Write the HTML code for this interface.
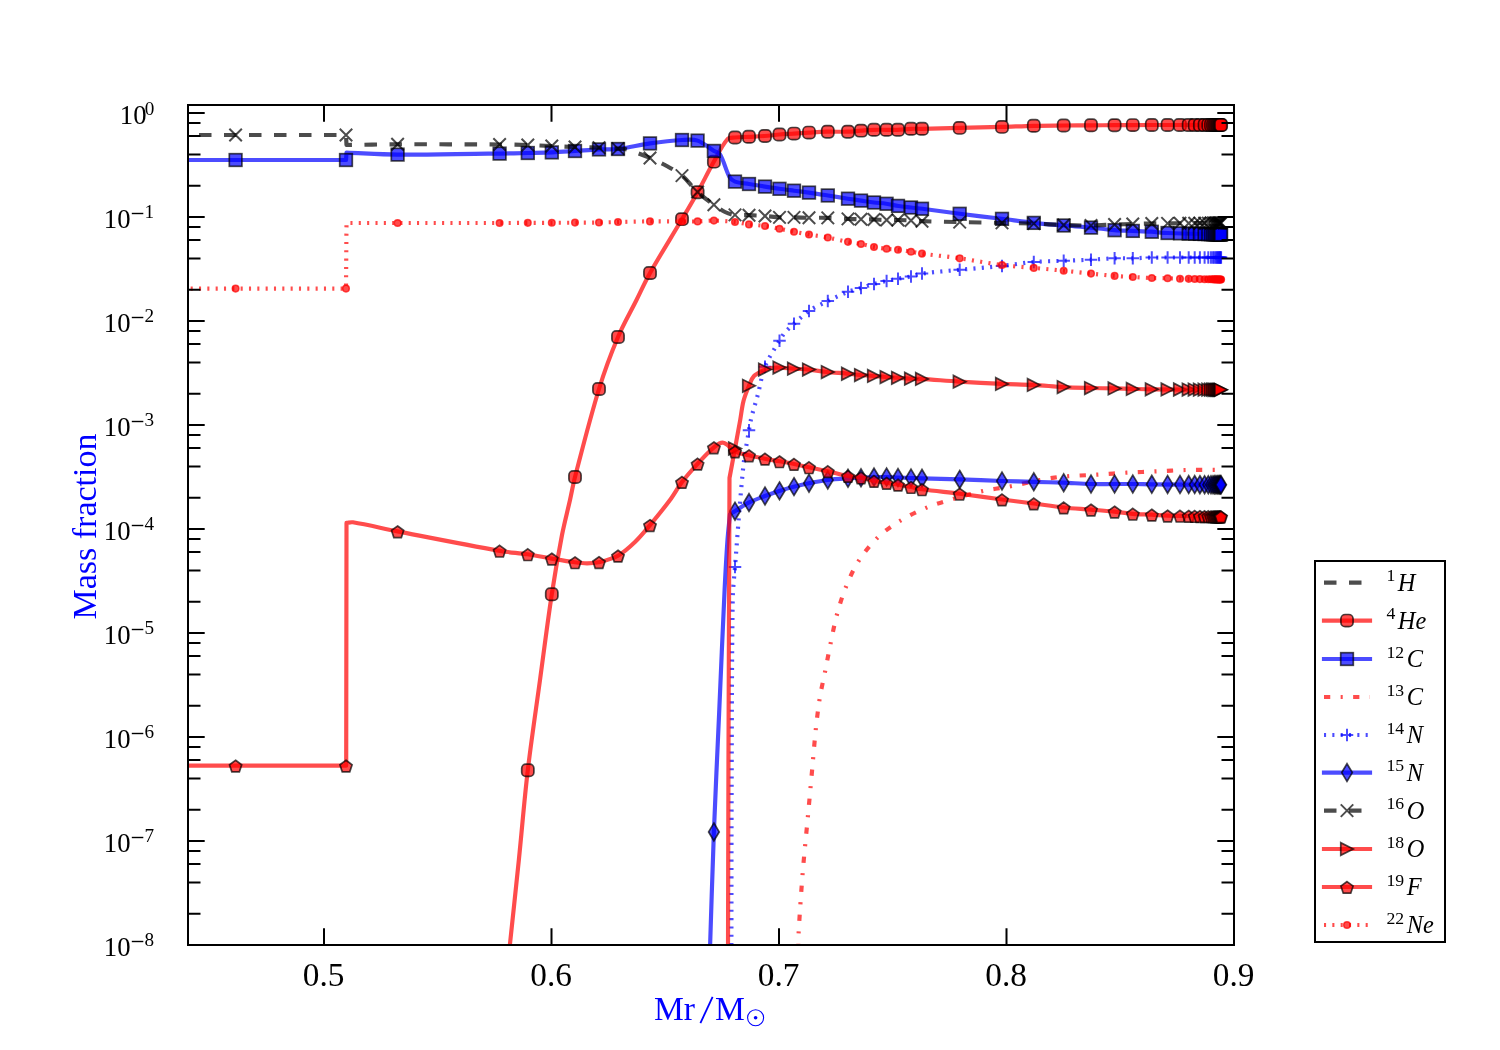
<!DOCTYPE html><html><head><meta charset="utf-8"><style>html,body{margin:0;padding:0;background:#fff;width:1500px;height:1050px;overflow:hidden}svg{display:block;will-change:transform}text{font-family:"Liberation Serif",serif}</style></head><body>
<svg width="1500" height="1050" viewBox="0 0 1500 1050">
<rect width="1500" height="1050" fill="#fff"/>
<defs><clipPath id="ax"><rect x="188" y="105" width="1046" height="840"/></clipPath></defs>
<g clip-path="url(#ax)">
<path d="M508.80,955.00C512.13,923.49 515.66,891.02 518.90,859.50C521.90,830.30 524.27,800.15 527.70,771.00C531.24,740.90 535.91,710.03 540.00,680.00C543.83,651.91 547.45,622.93 551.70,594.90C554.71,575.07 558.20,554.69 562.00,535.00C564.24,523.37 567.41,511.56 570.00,500.00C571.70,492.42 573.04,484.52 575.00,477.00C582.61,447.88 590.16,417.77 599.00,389.00C604.36,371.54 610.91,353.84 618.00,337.00C623.30,324.42 630.40,312.21 636.50,300.00C640.80,291.39 644.78,282.29 649.50,273.90C659.64,255.87 671.00,237.82 681.50,220.00C686.84,210.93 692.39,201.61 697.50,192.40C702.96,182.56 707.98,172.10 713.50,162.30C717.91,154.47 721.73,145.80 727.60,139.00C729.21,137.14 732.45,137.76 734.90,137.50C739.40,137.03 744.08,137.03 748.60,136.80C753.81,136.53 759.19,136.39 764.40,136.00C769.39,135.63 774.51,134.91 779.50,134.50C784.21,134.12 789.08,133.90 793.80,133.60C798.82,133.28 803.98,132.89 809.00,132.60C814.94,132.26 821.05,131.84 827.00,131.70C833.83,131.54 840.87,131.90 847.70,131.70C851.93,131.57 856.27,131.01 860.50,130.70C864.89,130.38 869.40,129.95 873.80,129.80C877.89,129.66 882.11,129.80 886.20,129.80C889.96,129.80 893.84,129.95 897.60,129.80C902.03,129.62 906.57,128.98 911.00,128.80C914.63,128.65 918.37,128.87 922.00,128.80C934.38,128.57 947.12,128.20 959.50,127.90C973.33,127.57 987.57,127.29 1001.40,126.90C1012.09,126.60 1023.10,126.04 1033.80,125.80C1043.67,125.58 1053.83,125.59 1063.70,125.50C1072.71,125.42 1081.99,125.35 1091.00,125.30C1098.79,125.25 1106.81,125.24 1114.60,125.20C1126.88,125.14 1139.52,125.02 1151.80,125.00C1174.80,124.96 1198.50,125.00 1221.50,125.00" fill="none" stroke="#ff0000" stroke-opacity="0.7" stroke-width="4.17" stroke-linecap="square" stroke-linejoin="round"/>
<rect x="521.70" y="764.16" width="12.2" height="12.2" rx="4.2" fill="#ff0000" fill-opacity="0.7" stroke="#000" stroke-opacity="0.7" stroke-width="1.7"/>
<rect x="545.70" y="588.22" width="12.2" height="12.2" rx="4.2" fill="#ff0000" fill-opacity="0.7" stroke="#000" stroke-opacity="0.7" stroke-width="1.7"/>
<rect x="568.90" y="470.90" width="12.2" height="12.2" rx="4.2" fill="#ff0000" fill-opacity="0.7" stroke="#000" stroke-opacity="0.7" stroke-width="1.7"/>
<rect x="592.90" y="382.90" width="12.2" height="12.2" rx="4.2" fill="#ff0000" fill-opacity="0.7" stroke="#000" stroke-opacity="0.7" stroke-width="1.7"/>
<rect x="611.90" y="330.90" width="12.2" height="12.2" rx="4.2" fill="#ff0000" fill-opacity="0.7" stroke="#000" stroke-opacity="0.7" stroke-width="1.7"/>
<rect x="643.90" y="266.96" width="12.2" height="12.2" rx="4.2" fill="#ff0000" fill-opacity="0.7" stroke="#000" stroke-opacity="0.7" stroke-width="1.7"/>
<rect x="675.90" y="213.04" width="12.2" height="12.2" rx="4.2" fill="#ff0000" fill-opacity="0.7" stroke="#000" stroke-opacity="0.7" stroke-width="1.7"/>
<rect x="691.50" y="186.11" width="12.2" height="12.2" rx="4.2" fill="#ff0000" fill-opacity="0.7" stroke="#000" stroke-opacity="0.7" stroke-width="1.7"/>
<rect x="707.80" y="155.54" width="12.2" height="12.2" rx="4.2" fill="#ff0000" fill-opacity="0.7" stroke="#000" stroke-opacity="0.7" stroke-width="1.7"/>
<rect x="728.90" y="131.39" width="12.2" height="12.2" rx="4.2" fill="#ff0000" fill-opacity="0.7" stroke="#000" stroke-opacity="0.7" stroke-width="1.7"/>
<rect x="742.90" y="130.68" width="12.2" height="12.2" rx="4.2" fill="#ff0000" fill-opacity="0.7" stroke="#000" stroke-opacity="0.7" stroke-width="1.7"/>
<rect x="758.90" y="129.84" width="12.2" height="12.2" rx="4.2" fill="#ff0000" fill-opacity="0.7" stroke="#000" stroke-opacity="0.7" stroke-width="1.7"/>
<rect x="773.40" y="128.40" width="12.2" height="12.2" rx="4.2" fill="#ff0000" fill-opacity="0.7" stroke="#000" stroke-opacity="0.7" stroke-width="1.7"/>
<rect x="787.90" y="127.49" width="12.2" height="12.2" rx="4.2" fill="#ff0000" fill-opacity="0.7" stroke="#000" stroke-opacity="0.7" stroke-width="1.7"/>
<rect x="802.90" y="126.50" width="12.2" height="12.2" rx="4.2" fill="#ff0000" fill-opacity="0.7" stroke="#000" stroke-opacity="0.7" stroke-width="1.7"/>
<rect x="821.70" y="125.60" width="12.2" height="12.2" rx="4.2" fill="#ff0000" fill-opacity="0.7" stroke="#000" stroke-opacity="0.7" stroke-width="1.7"/>
<rect x="841.90" y="125.58" width="12.2" height="12.2" rx="4.2" fill="#ff0000" fill-opacity="0.7" stroke="#000" stroke-opacity="0.7" stroke-width="1.7"/>
<rect x="854.90" y="124.57" width="12.2" height="12.2" rx="4.2" fill="#ff0000" fill-opacity="0.7" stroke="#000" stroke-opacity="0.7" stroke-width="1.7"/>
<rect x="867.90" y="123.70" width="12.2" height="12.2" rx="4.2" fill="#ff0000" fill-opacity="0.7" stroke="#000" stroke-opacity="0.7" stroke-width="1.7"/>
<rect x="880.50" y="123.70" width="12.2" height="12.2" rx="4.2" fill="#ff0000" fill-opacity="0.7" stroke="#000" stroke-opacity="0.7" stroke-width="1.7"/>
<rect x="891.90" y="123.67" width="12.2" height="12.2" rx="4.2" fill="#ff0000" fill-opacity="0.7" stroke="#000" stroke-opacity="0.7" stroke-width="1.7"/>
<rect x="904.90" y="122.70" width="12.2" height="12.2" rx="4.2" fill="#ff0000" fill-opacity="0.7" stroke="#000" stroke-opacity="0.7" stroke-width="1.7"/>
<rect x="915.90" y="122.70" width="12.2" height="12.2" rx="4.2" fill="#ff0000" fill-opacity="0.7" stroke="#000" stroke-opacity="0.7" stroke-width="1.7"/>
<rect x="953.60" y="121.80" width="12.2" height="12.2" rx="4.2" fill="#ff0000" fill-opacity="0.7" stroke="#000" stroke-opacity="0.7" stroke-width="1.7"/>
<rect x="995.90" y="120.78" width="12.2" height="12.2" rx="4.2" fill="#ff0000" fill-opacity="0.7" stroke="#000" stroke-opacity="0.7" stroke-width="1.7"/>
<rect x="1027.70" y="119.70" width="12.2" height="12.2" rx="4.2" fill="#ff0000" fill-opacity="0.7" stroke="#000" stroke-opacity="0.7" stroke-width="1.7"/>
<rect x="1057.60" y="119.40" width="12.2" height="12.2" rx="4.2" fill="#ff0000" fill-opacity="0.7" stroke="#000" stroke-opacity="0.7" stroke-width="1.7"/>
<rect x="1084.90" y="119.20" width="12.2" height="12.2" rx="4.2" fill="#ff0000" fill-opacity="0.7" stroke="#000" stroke-opacity="0.7" stroke-width="1.7"/>
<rect x="1108.50" y="119.10" width="12.2" height="12.2" rx="4.2" fill="#ff0000" fill-opacity="0.7" stroke="#000" stroke-opacity="0.7" stroke-width="1.7"/>
<rect x="1126.70" y="119.00" width="12.2" height="12.2" rx="4.2" fill="#ff0000" fill-opacity="0.7" stroke="#000" stroke-opacity="0.7" stroke-width="1.7"/>
<rect x="1145.70" y="118.90" width="12.2" height="12.2" rx="4.2" fill="#ff0000" fill-opacity="0.7" stroke="#000" stroke-opacity="0.7" stroke-width="1.7"/>
<rect x="1161.50" y="118.90" width="12.2" height="12.2" rx="4.2" fill="#ff0000" fill-opacity="0.7" stroke="#000" stroke-opacity="0.7" stroke-width="1.7"/>
<rect x="1173.90" y="118.90" width="12.2" height="12.2" rx="4.2" fill="#ff0000" fill-opacity="0.7" stroke="#000" stroke-opacity="0.7" stroke-width="1.7"/>
<rect x="1182.60" y="118.90" width="12.2" height="12.2" rx="4.2" fill="#ff0000" fill-opacity="0.7" stroke="#000" stroke-opacity="0.7" stroke-width="1.7"/>
<rect x="1188.60" y="118.90" width="12.2" height="12.2" rx="4.2" fill="#ff0000" fill-opacity="0.7" stroke="#000" stroke-opacity="0.7" stroke-width="1.7"/>
<rect x="1193.80" y="118.90" width="12.2" height="12.2" rx="4.2" fill="#ff0000" fill-opacity="0.7" stroke="#000" stroke-opacity="0.7" stroke-width="1.7"/>
<rect x="1198.50" y="118.90" width="12.2" height="12.2" rx="4.2" fill="#ff0000" fill-opacity="0.7" stroke="#000" stroke-opacity="0.7" stroke-width="1.7"/>
<rect x="1202.20" y="118.90" width="12.2" height="12.2" rx="4.2" fill="#ff0000" fill-opacity="0.7" stroke="#000" stroke-opacity="0.7" stroke-width="1.7"/>
<rect x="1204.90" y="118.90" width="12.2" height="12.2" rx="4.2" fill="#ff0000" fill-opacity="0.7" stroke="#000" stroke-opacity="0.7" stroke-width="1.7"/>
<rect x="1206.90" y="118.90" width="12.2" height="12.2" rx="4.2" fill="#ff0000" fill-opacity="0.7" stroke="#000" stroke-opacity="0.7" stroke-width="1.7"/>
<rect x="1208.40" y="118.90" width="12.2" height="12.2" rx="4.2" fill="#ff0000" fill-opacity="0.7" stroke="#000" stroke-opacity="0.7" stroke-width="1.7"/>
<rect x="1209.70" y="118.90" width="12.2" height="12.2" rx="4.2" fill="#ff0000" fill-opacity="0.7" stroke="#000" stroke-opacity="0.7" stroke-width="1.7"/>
<rect x="1210.90" y="118.90" width="12.2" height="12.2" rx="4.2" fill="#ff0000" fill-opacity="0.7" stroke="#000" stroke-opacity="0.7" stroke-width="1.7"/>
<rect x="1211.90" y="118.90" width="12.2" height="12.2" rx="4.2" fill="#ff0000" fill-opacity="0.7" stroke="#000" stroke-opacity="0.7" stroke-width="1.7"/>
<rect x="1212.90" y="118.90" width="12.2" height="12.2" rx="4.2" fill="#ff0000" fill-opacity="0.7" stroke="#000" stroke-opacity="0.7" stroke-width="1.7"/>
<rect x="1213.70" y="118.90" width="12.2" height="12.2" rx="4.2" fill="#ff0000" fill-opacity="0.7" stroke="#000" stroke-opacity="0.7" stroke-width="1.7"/>
<rect x="1214.40" y="118.90" width="12.2" height="12.2" rx="4.2" fill="#ff0000" fill-opacity="0.7" stroke="#000" stroke-opacity="0.7" stroke-width="1.7"/>
<rect x="1215.00" y="118.90" width="12.2" height="12.2" rx="4.2" fill="#ff0000" fill-opacity="0.7" stroke="#000" stroke-opacity="0.7" stroke-width="1.7"/>
<path d="M174.00,160.00L346.00,160.00L346.50,152.60C363.36,153.26 380.72,154.48 397.60,154.60C427.43,154.81 458.17,153.89 488.00,153.60C491.83,153.56 495.77,153.66 499.60,153.60C508.97,153.46 518.63,153.21 528.00,153.00C535.92,152.82 544.08,152.74 552.00,152.40C559.60,152.08 567.41,151.48 575.00,151.00C582.92,150.49 591.07,149.77 599.00,149.40C605.26,149.11 611.77,149.73 618.00,149.00C628.65,147.75 639.38,144.89 650.00,143.40C660.52,141.92 671.40,140.62 682.00,140.00C687.14,139.70 692.73,138.93 697.60,140.60C703.66,142.68 708.53,147.66 714.00,151.00C715.93,152.18 718.84,152.36 720.00,154.30C724.16,161.28 725.59,169.88 729.50,177.00C730.64,179.07 732.77,180.80 735.00,181.60C739.41,183.18 744.38,183.23 749.00,184.00C754.28,184.88 759.72,185.77 765.00,186.60C769.78,187.35 774.71,188.12 779.50,188.80C784.28,189.48 789.21,190.08 794.00,190.70C798.95,191.34 804.06,191.90 809.00,192.60C815.28,193.49 821.73,194.52 828.00,195.50C834.60,196.53 841.39,197.68 848.00,198.70C852.28,199.36 856.71,199.97 861.00,200.60C865.29,201.23 869.70,201.97 874.00,202.50C878.02,202.99 882.19,203.13 886.20,203.70C890.32,204.29 894.49,205.37 898.60,206.00C902.67,206.62 906.91,207.02 911.00,207.50C914.76,207.94 918.64,208.32 922.40,208.80C934.75,210.39 947.45,212.24 959.80,213.80C973.58,215.54 987.81,217.11 1001.60,218.80C1012.26,220.11 1023.22,221.75 1033.90,222.90C1043.78,223.96 1054.00,224.68 1063.90,225.50C1072.84,226.24 1082.07,226.77 1091.00,227.60C1098.77,228.32 1106.72,229.59 1114.50,230.20C1120.56,230.68 1126.83,230.65 1132.90,230.90C1138.94,231.15 1145.17,231.33 1151.20,231.70C1156.62,232.03 1162.18,232.78 1167.60,233.00C1185.38,233.71 1203.71,234.00 1221.50,234.50" fill="none" stroke="#0000ff" stroke-opacity="0.7" stroke-width="4.17" stroke-linecap="square" stroke-linejoin="round"/>
<rect x="229.30" y="153.70" width="12.6" height="12.6" fill="#0000ff" fill-opacity="0.7" stroke="#000" stroke-opacity="0.7" stroke-width="1.7"/>
<rect x="339.70" y="153.70" width="12.6" height="12.6" fill="#0000ff" fill-opacity="0.7" stroke="#000" stroke-opacity="0.7" stroke-width="1.7"/>
<rect x="391.30" y="148.30" width="12.6" height="12.6" fill="#0000ff" fill-opacity="0.7" stroke="#000" stroke-opacity="0.7" stroke-width="1.7"/>
<rect x="493.30" y="147.30" width="12.6" height="12.6" fill="#0000ff" fill-opacity="0.7" stroke="#000" stroke-opacity="0.7" stroke-width="1.7"/>
<rect x="521.50" y="146.70" width="12.6" height="12.6" fill="#0000ff" fill-opacity="0.7" stroke="#000" stroke-opacity="0.7" stroke-width="1.7"/>
<rect x="545.50" y="146.10" width="12.6" height="12.6" fill="#0000ff" fill-opacity="0.7" stroke="#000" stroke-opacity="0.7" stroke-width="1.7"/>
<rect x="568.70" y="144.70" width="12.6" height="12.6" fill="#0000ff" fill-opacity="0.7" stroke="#000" stroke-opacity="0.7" stroke-width="1.7"/>
<rect x="592.70" y="143.10" width="12.6" height="12.6" fill="#0000ff" fill-opacity="0.7" stroke="#000" stroke-opacity="0.7" stroke-width="1.7"/>
<rect x="611.70" y="142.70" width="12.6" height="12.6" fill="#0000ff" fill-opacity="0.7" stroke="#000" stroke-opacity="0.7" stroke-width="1.7"/>
<rect x="643.70" y="137.10" width="12.6" height="12.6" fill="#0000ff" fill-opacity="0.7" stroke="#000" stroke-opacity="0.7" stroke-width="1.7"/>
<rect x="675.70" y="133.70" width="12.6" height="12.6" fill="#0000ff" fill-opacity="0.7" stroke="#000" stroke-opacity="0.7" stroke-width="1.7"/>
<rect x="691.30" y="134.30" width="12.6" height="12.6" fill="#0000ff" fill-opacity="0.7" stroke="#000" stroke-opacity="0.7" stroke-width="1.7"/>
<rect x="707.60" y="144.64" width="12.6" height="12.6" fill="#0000ff" fill-opacity="0.7" stroke="#000" stroke-opacity="0.7" stroke-width="1.7"/>
<rect x="728.70" y="175.30" width="12.6" height="12.6" fill="#0000ff" fill-opacity="0.7" stroke="#000" stroke-opacity="0.7" stroke-width="1.7"/>
<rect x="742.70" y="177.70" width="12.6" height="12.6" fill="#0000ff" fill-opacity="0.7" stroke="#000" stroke-opacity="0.7" stroke-width="1.7"/>
<rect x="758.70" y="180.30" width="12.6" height="12.6" fill="#0000ff" fill-opacity="0.7" stroke="#000" stroke-opacity="0.7" stroke-width="1.7"/>
<rect x="773.20" y="182.50" width="12.6" height="12.6" fill="#0000ff" fill-opacity="0.7" stroke="#000" stroke-opacity="0.7" stroke-width="1.7"/>
<rect x="787.70" y="184.40" width="12.6" height="12.6" fill="#0000ff" fill-opacity="0.7" stroke="#000" stroke-opacity="0.7" stroke-width="1.7"/>
<rect x="802.70" y="186.30" width="12.6" height="12.6" fill="#0000ff" fill-opacity="0.7" stroke="#000" stroke-opacity="0.7" stroke-width="1.7"/>
<rect x="821.50" y="189.17" width="12.6" height="12.6" fill="#0000ff" fill-opacity="0.7" stroke="#000" stroke-opacity="0.7" stroke-width="1.7"/>
<rect x="841.70" y="192.40" width="12.6" height="12.6" fill="#0000ff" fill-opacity="0.7" stroke="#000" stroke-opacity="0.7" stroke-width="1.7"/>
<rect x="854.70" y="194.30" width="12.6" height="12.6" fill="#0000ff" fill-opacity="0.7" stroke="#000" stroke-opacity="0.7" stroke-width="1.7"/>
<rect x="867.70" y="196.20" width="12.6" height="12.6" fill="#0000ff" fill-opacity="0.7" stroke="#000" stroke-opacity="0.7" stroke-width="1.7"/>
<rect x="880.30" y="197.47" width="12.6" height="12.6" fill="#0000ff" fill-opacity="0.7" stroke="#000" stroke-opacity="0.7" stroke-width="1.7"/>
<rect x="891.70" y="199.59" width="12.6" height="12.6" fill="#0000ff" fill-opacity="0.7" stroke="#000" stroke-opacity="0.7" stroke-width="1.7"/>
<rect x="904.70" y="201.20" width="12.6" height="12.6" fill="#0000ff" fill-opacity="0.7" stroke="#000" stroke-opacity="0.7" stroke-width="1.7"/>
<rect x="915.70" y="202.45" width="12.6" height="12.6" fill="#0000ff" fill-opacity="0.7" stroke="#000" stroke-opacity="0.7" stroke-width="1.7"/>
<rect x="953.40" y="207.49" width="12.6" height="12.6" fill="#0000ff" fill-opacity="0.7" stroke="#000" stroke-opacity="0.7" stroke-width="1.7"/>
<rect x="995.70" y="212.55" width="12.6" height="12.6" fill="#0000ff" fill-opacity="0.7" stroke="#000" stroke-opacity="0.7" stroke-width="1.7"/>
<rect x="1027.50" y="216.59" width="12.6" height="12.6" fill="#0000ff" fill-opacity="0.7" stroke="#000" stroke-opacity="0.7" stroke-width="1.7"/>
<rect x="1057.40" y="219.18" width="12.6" height="12.6" fill="#0000ff" fill-opacity="0.7" stroke="#000" stroke-opacity="0.7" stroke-width="1.7"/>
<rect x="1084.70" y="221.30" width="12.6" height="12.6" fill="#0000ff" fill-opacity="0.7" stroke="#000" stroke-opacity="0.7" stroke-width="1.7"/>
<rect x="1108.30" y="223.90" width="12.6" height="12.6" fill="#0000ff" fill-opacity="0.7" stroke="#000" stroke-opacity="0.7" stroke-width="1.7"/>
<rect x="1126.50" y="224.60" width="12.6" height="12.6" fill="#0000ff" fill-opacity="0.7" stroke="#000" stroke-opacity="0.7" stroke-width="1.7"/>
<rect x="1145.50" y="225.45" width="12.6" height="12.6" fill="#0000ff" fill-opacity="0.7" stroke="#000" stroke-opacity="0.7" stroke-width="1.7"/>
<rect x="1161.30" y="226.70" width="12.6" height="12.6" fill="#0000ff" fill-opacity="0.7" stroke="#000" stroke-opacity="0.7" stroke-width="1.7"/>
<rect x="1173.70" y="227.05" width="12.6" height="12.6" fill="#0000ff" fill-opacity="0.7" stroke="#000" stroke-opacity="0.7" stroke-width="1.7"/>
<rect x="1182.40" y="227.29" width="12.6" height="12.6" fill="#0000ff" fill-opacity="0.7" stroke="#000" stroke-opacity="0.7" stroke-width="1.7"/>
<rect x="1188.40" y="227.45" width="12.6" height="12.6" fill="#0000ff" fill-opacity="0.7" stroke="#000" stroke-opacity="0.7" stroke-width="1.7"/>
<rect x="1193.60" y="227.60" width="12.6" height="12.6" fill="#0000ff" fill-opacity="0.7" stroke="#000" stroke-opacity="0.7" stroke-width="1.7"/>
<rect x="1198.30" y="227.73" width="12.6" height="12.6" fill="#0000ff" fill-opacity="0.7" stroke="#000" stroke-opacity="0.7" stroke-width="1.7"/>
<rect x="1202.00" y="227.83" width="12.6" height="12.6" fill="#0000ff" fill-opacity="0.7" stroke="#000" stroke-opacity="0.7" stroke-width="1.7"/>
<rect x="1204.70" y="227.91" width="12.6" height="12.6" fill="#0000ff" fill-opacity="0.7" stroke="#000" stroke-opacity="0.7" stroke-width="1.7"/>
<rect x="1206.70" y="227.96" width="12.6" height="12.6" fill="#0000ff" fill-opacity="0.7" stroke="#000" stroke-opacity="0.7" stroke-width="1.7"/>
<rect x="1208.20" y="228.01" width="12.6" height="12.6" fill="#0000ff" fill-opacity="0.7" stroke="#000" stroke-opacity="0.7" stroke-width="1.7"/>
<rect x="1209.50" y="228.04" width="12.6" height="12.6" fill="#0000ff" fill-opacity="0.7" stroke="#000" stroke-opacity="0.7" stroke-width="1.7"/>
<rect x="1210.70" y="228.07" width="12.6" height="12.6" fill="#0000ff" fill-opacity="0.7" stroke="#000" stroke-opacity="0.7" stroke-width="1.7"/>
<rect x="1211.70" y="228.10" width="12.6" height="12.6" fill="#0000ff" fill-opacity="0.7" stroke="#000" stroke-opacity="0.7" stroke-width="1.7"/>
<rect x="1212.70" y="228.13" width="12.6" height="12.6" fill="#0000ff" fill-opacity="0.7" stroke="#000" stroke-opacity="0.7" stroke-width="1.7"/>
<rect x="1213.50" y="228.15" width="12.6" height="12.6" fill="#0000ff" fill-opacity="0.7" stroke="#000" stroke-opacity="0.7" stroke-width="1.7"/>
<rect x="1214.20" y="228.17" width="12.6" height="12.6" fill="#0000ff" fill-opacity="0.7" stroke="#000" stroke-opacity="0.7" stroke-width="1.7"/>
<rect x="1214.80" y="228.19" width="12.6" height="12.6" fill="#0000ff" fill-opacity="0.7" stroke="#000" stroke-opacity="0.7" stroke-width="1.7"/>
<path d="M798.20,950.00C798.37,943.83 798.34,937.46 798.70,931.30C799.83,911.95 801.15,892.02 802.70,872.70C804.22,853.74 806.26,834.24 808.00,815.30C809.33,800.78 810.68,785.82 812.00,771.30C813.32,756.78 814.45,741.80 816.00,727.30C817.09,717.17 818.35,706.75 820.00,696.70C821.49,687.66 823.71,678.48 825.50,669.50C827.31,660.40 829.00,650.98 830.90,641.90C832.86,632.54 834.64,622.82 837.20,613.60C839.83,604.12 842.86,594.40 846.60,585.30C850.14,576.70 854.11,567.88 859.20,560.10C864.57,551.88 870.98,543.87 878.10,537.10C884.91,530.63 893.06,525.17 901.10,520.30C909.36,515.30 918.35,510.91 927.30,507.30C936.39,503.63 946.20,501.06 955.60,498.30C964.55,495.68 973.79,493.00 982.90,491.00C991.10,489.20 999.75,488.35 1008.00,486.80C1023.31,483.93 1038.86,479.68 1054.30,477.60C1069.12,475.61 1084.58,475.51 1099.50,474.50C1108.48,473.89 1117.72,473.20 1126.70,472.70C1136.86,472.14 1147.34,471.76 1157.50,471.30C1167.04,470.87 1176.86,470.22 1186.40,470.00C1197.98,469.73 1209.92,469.87 1221.50,469.80" fill="none" stroke="#ff0000" stroke-opacity="0.7" stroke-width="4.17" stroke-linecap="butt" stroke-linejoin="round" stroke-dasharray="6.25,10.4,2.08,10.4"/>
<path d="M731.40,945.00C731.47,897.15 731.42,847.85 731.60,800.00C731.85,734.00 731.74,665.99 732.70,600.00C732.86,589.08 734.13,577.88 735.00,567.00C737.63,533.89 739.95,499.74 743.30,466.70C744.47,455.11 746.81,443.30 748.70,431.80C749.45,427.23 750.19,422.50 751.30,418.00C753.26,410.02 755.90,401.95 758.00,394.00C760.32,385.22 761.54,375.82 764.70,367.30C767.29,360.30 771.66,353.82 775.30,347.30C776.68,344.84 778.37,342.47 779.90,340.10C781.48,337.65 782.80,334.90 784.70,332.70C787.48,329.49 790.84,326.64 794.00,323.80C798.83,319.47 803.52,314.62 808.90,311.00C814.78,307.05 821.54,304.12 827.90,301.00C834.41,297.81 841.16,294.57 847.90,291.90C852.10,290.24 856.68,289.22 861.00,287.90C865.29,286.58 869.67,285.08 874.00,283.90C878.19,282.76 882.56,281.82 886.80,280.90C890.48,280.10 894.30,279.39 898.00,278.70C902.28,277.90 906.74,277.31 911.00,276.40C914.66,275.62 918.29,274.11 922.00,273.60C934.32,271.92 947.12,270.99 959.50,269.80C973.32,268.48 987.59,267.45 1001.40,266.00C1012.11,264.88 1023.06,262.90 1033.80,262.00C1043.64,261.18 1053.83,261.20 1063.70,260.80C1072.71,260.44 1081.99,260.14 1091.00,259.70C1098.79,259.32 1106.80,258.56 1114.60,258.30C1120.60,258.10 1126.80,258.41 1132.80,258.30C1139.07,258.18 1145.53,257.66 1151.80,257.60C1174.80,257.39 1198.50,257.53 1221.50,257.50" fill="none" stroke="#0000ff" stroke-opacity="0.7" stroke-width="4.17" stroke-linecap="butt" stroke-linejoin="round" stroke-dasharray="2.08,6.25"/>
<path d="M728.75,567.00L741.25,567.00M735.00,560.75L735.00,573.25" stroke="#0000ff" stroke-opacity="0.7" stroke-width="2" fill="none"/>
<path d="M742.75,430.21L755.25,430.21M749.00,423.96L749.00,436.46" stroke="#0000ff" stroke-opacity="0.7" stroke-width="2" fill="none"/>
<path d="M758.75,366.73L771.25,366.73M765.00,360.48L765.00,372.98" stroke="#0000ff" stroke-opacity="0.7" stroke-width="2" fill="none"/>
<path d="M773.25,340.73L785.75,340.73M779.50,334.48L779.50,346.98" stroke="#0000ff" stroke-opacity="0.7" stroke-width="2" fill="none"/>
<path d="M787.75,323.80L800.25,323.80M794.00,317.55L794.00,330.05" stroke="#0000ff" stroke-opacity="0.7" stroke-width="2" fill="none"/>
<path d="M802.75,310.95L815.25,310.95M809.00,304.70L809.00,317.20" stroke="#0000ff" stroke-opacity="0.7" stroke-width="2" fill="none"/>
<path d="M821.55,301.05L834.05,301.05M827.80,294.80L827.80,307.30" stroke="#0000ff" stroke-opacity="0.7" stroke-width="2" fill="none"/>
<path d="M841.75,291.87L854.25,291.87M848.00,285.62L848.00,298.12" stroke="#0000ff" stroke-opacity="0.7" stroke-width="2" fill="none"/>
<path d="M854.75,287.90L867.25,287.90M861.00,281.65L861.00,294.15" stroke="#0000ff" stroke-opacity="0.7" stroke-width="2" fill="none"/>
<path d="M867.75,283.90L880.25,283.90M874.00,277.65L874.00,290.15" stroke="#0000ff" stroke-opacity="0.7" stroke-width="2" fill="none"/>
<path d="M880.35,280.95L892.85,280.95M886.60,274.70L886.60,287.20" stroke="#0000ff" stroke-opacity="0.7" stroke-width="2" fill="none"/>
<path d="M891.75,278.70L904.25,278.70M898.00,272.45L898.00,284.95" stroke="#0000ff" stroke-opacity="0.7" stroke-width="2" fill="none"/>
<path d="M904.75,276.40L917.25,276.40M911.00,270.15L911.00,282.65" stroke="#0000ff" stroke-opacity="0.7" stroke-width="2" fill="none"/>
<path d="M915.75,273.60L928.25,273.60M922.00,267.35L922.00,279.85" stroke="#0000ff" stroke-opacity="0.7" stroke-width="2" fill="none"/>
<path d="M953.45,269.78L965.95,269.78M959.70,263.53L959.70,276.03" stroke="#0000ff" stroke-opacity="0.7" stroke-width="2" fill="none"/>
<path d="M995.75,265.93L1008.25,265.93M1002.00,259.68L1002.00,272.18" stroke="#0000ff" stroke-opacity="0.7" stroke-width="2" fill="none"/>
<path d="M1027.55,262.00L1040.05,262.00M1033.80,255.75L1033.80,268.25" stroke="#0000ff" stroke-opacity="0.7" stroke-width="2" fill="none"/>
<path d="M1057.45,260.80L1069.95,260.80M1063.70,254.55L1063.70,267.05" stroke="#0000ff" stroke-opacity="0.7" stroke-width="2" fill="none"/>
<path d="M1084.75,259.70L1097.25,259.70M1091.00,253.45L1091.00,265.95" stroke="#0000ff" stroke-opacity="0.7" stroke-width="2" fill="none"/>
<path d="M1108.35,258.30L1120.85,258.30M1114.60,252.05L1114.60,264.55" stroke="#0000ff" stroke-opacity="0.7" stroke-width="2" fill="none"/>
<path d="M1126.55,258.30L1139.05,258.30M1132.80,252.05L1132.80,264.55" stroke="#0000ff" stroke-opacity="0.7" stroke-width="2" fill="none"/>
<path d="M1145.55,257.60L1158.05,257.60M1151.80,251.35L1151.80,263.85" stroke="#0000ff" stroke-opacity="0.7" stroke-width="2" fill="none"/>
<path d="M1161.35,257.58L1173.85,257.58M1167.60,251.33L1167.60,263.83" stroke="#0000ff" stroke-opacity="0.7" stroke-width="2" fill="none"/>
<path d="M1173.75,257.56L1186.25,257.56M1180.00,251.31L1180.00,263.81" stroke="#0000ff" stroke-opacity="0.7" stroke-width="2" fill="none"/>
<path d="M1182.45,257.55L1194.95,257.55M1188.70,251.30L1188.70,263.80" stroke="#0000ff" stroke-opacity="0.7" stroke-width="2" fill="none"/>
<path d="M1188.45,257.54L1200.95,257.54M1194.70,251.29L1194.70,263.79" stroke="#0000ff" stroke-opacity="0.7" stroke-width="2" fill="none"/>
<path d="M1193.65,257.53L1206.15,257.53M1199.90,251.28L1199.90,263.78" stroke="#0000ff" stroke-opacity="0.7" stroke-width="2" fill="none"/>
<path d="M1198.35,257.52L1210.85,257.52M1204.60,251.27L1204.60,263.77" stroke="#0000ff" stroke-opacity="0.7" stroke-width="2" fill="none"/>
<path d="M1202.05,257.52L1214.55,257.52M1208.30,251.27L1208.30,263.77" stroke="#0000ff" stroke-opacity="0.7" stroke-width="2" fill="none"/>
<path d="M1204.75,257.52L1217.25,257.52M1211.00,251.27L1211.00,263.77" stroke="#0000ff" stroke-opacity="0.7" stroke-width="2" fill="none"/>
<path d="M1206.75,257.51L1219.25,257.51M1213.00,251.26L1213.00,263.76" stroke="#0000ff" stroke-opacity="0.7" stroke-width="2" fill="none"/>
<path d="M1208.25,257.51L1220.75,257.51M1214.50,251.26L1214.50,263.76" stroke="#0000ff" stroke-opacity="0.7" stroke-width="2" fill="none"/>
<path d="M1209.55,257.51L1222.05,257.51M1215.80,251.26L1215.80,263.76" stroke="#0000ff" stroke-opacity="0.7" stroke-width="2" fill="none"/>
<path d="M1210.75,257.51L1223.25,257.51M1217.00,251.26L1217.00,263.76" stroke="#0000ff" stroke-opacity="0.7" stroke-width="2" fill="none"/>
<path d="M1211.75,257.51L1224.25,257.51M1218.00,251.26L1218.00,263.76" stroke="#0000ff" stroke-opacity="0.7" stroke-width="2" fill="none"/>
<path d="M1212.75,257.50L1225.25,257.50M1219.00,251.25L1219.00,263.75" stroke="#0000ff" stroke-opacity="0.7" stroke-width="2" fill="none"/>
<path d="M1213.55,257.50L1226.05,257.50M1219.80,251.25L1219.80,263.75" stroke="#0000ff" stroke-opacity="0.7" stroke-width="2" fill="none"/>
<path d="M1214.25,257.50L1226.75,257.50M1220.50,251.25L1220.50,263.75" stroke="#0000ff" stroke-opacity="0.7" stroke-width="2" fill="none"/>
<path d="M1214.85,257.50L1227.35,257.50M1221.10,251.25L1221.10,263.75" stroke="#0000ff" stroke-opacity="0.7" stroke-width="2" fill="none"/>
<path d="M709.80,955.00C711.15,914.38 712.33,872.52 713.90,831.90C715.40,792.98 717.38,752.91 719.10,714.00C720.91,673.08 722.62,630.91 724.60,590.00C725.40,573.49 726.33,556.49 727.50,540.00C728.11,531.40 729.17,522.58 730.00,514.00C731.75,513.01 733.58,512.04 735.30,511.00C739.75,508.31 744.06,505.04 748.70,502.70C753.89,500.08 759.57,498.08 765.00,496.00C769.90,494.12 775.01,492.32 780.00,490.70C784.48,489.25 789.14,487.88 793.70,486.70C798.61,485.43 803.72,484.29 808.70,483.30C814.81,482.08 821.12,480.79 827.30,480.00C834.00,479.14 840.96,478.74 847.70,478.30C852.08,478.01 856.61,478.00 861.00,477.80C865.29,477.60 869.71,477.23 874.00,477.10C878.16,476.97 882.44,476.93 886.60,477.00C890.37,477.06 894.24,477.35 898.00,477.50C902.29,477.68 906.71,477.86 911.00,478.00C914.63,478.12 918.37,478.20 922.00,478.30C934.44,478.66 947.26,478.98 959.70,479.40C973.66,479.87 988.04,480.55 1002.00,481.00C1012.39,481.34 1023.11,481.51 1033.50,481.80C1043.33,482.07 1053.47,482.32 1063.30,482.70C1072.28,483.05 1081.52,483.77 1090.50,484.00C1098.38,484.20 1106.51,484.00 1114.40,484.00C1120.44,484.00 1126.66,483.95 1132.70,484.00C1138.97,484.05 1145.43,484.24 1151.70,484.30C1174.73,484.51 1198.47,484.63 1221.50,484.80" fill="none" stroke="#0000ff" stroke-opacity="0.7" stroke-width="4.17" stroke-linecap="square" stroke-linejoin="round"/>
<path d="M713.90,823.06L719.20,831.90L713.90,840.74L708.60,831.90Z" fill="#0000ff" fill-opacity="0.7" stroke="#000" stroke-opacity="0.7" stroke-width="1.7"/>
<path d="M735.00,502.33L740.30,511.17L735.00,520.01L729.70,511.17Z" fill="#0000ff" fill-opacity="0.7" stroke="#000" stroke-opacity="0.7" stroke-width="1.7"/>
<path d="M749.00,493.74L754.30,502.58L749.00,511.42L743.70,502.58Z" fill="#0000ff" fill-opacity="0.7" stroke="#000" stroke-opacity="0.7" stroke-width="1.7"/>
<path d="M765.00,487.16L770.30,496.00L765.00,504.84L759.70,496.00Z" fill="#0000ff" fill-opacity="0.7" stroke="#000" stroke-opacity="0.7" stroke-width="1.7"/>
<path d="M779.50,482.04L784.80,490.88L779.50,499.72L774.20,490.88Z" fill="#0000ff" fill-opacity="0.7" stroke="#000" stroke-opacity="0.7" stroke-width="1.7"/>
<path d="M794.00,477.79L799.30,486.63L794.00,495.47L788.70,486.63Z" fill="#0000ff" fill-opacity="0.7" stroke="#000" stroke-opacity="0.7" stroke-width="1.7"/>
<path d="M809.00,474.41L814.30,483.25L809.00,492.09L803.70,483.25Z" fill="#0000ff" fill-opacity="0.7" stroke="#000" stroke-opacity="0.7" stroke-width="1.7"/>
<path d="M827.80,471.12L833.10,479.96L827.80,488.80L822.50,479.96Z" fill="#0000ff" fill-opacity="0.7" stroke="#000" stroke-opacity="0.7" stroke-width="1.7"/>
<path d="M848.00,469.45L853.30,478.29L848.00,487.13L842.70,478.29Z" fill="#0000ff" fill-opacity="0.7" stroke="#000" stroke-opacity="0.7" stroke-width="1.7"/>
<path d="M861.00,468.96L866.30,477.80L861.00,486.64L855.70,477.80Z" fill="#0000ff" fill-opacity="0.7" stroke="#000" stroke-opacity="0.7" stroke-width="1.7"/>
<path d="M874.00,468.26L879.30,477.10L874.00,485.94L868.70,477.10Z" fill="#0000ff" fill-opacity="0.7" stroke="#000" stroke-opacity="0.7" stroke-width="1.7"/>
<path d="M886.60,468.16L891.90,477.00L886.60,485.84L881.30,477.00Z" fill="#0000ff" fill-opacity="0.7" stroke="#000" stroke-opacity="0.7" stroke-width="1.7"/>
<path d="M898.00,468.66L903.30,477.50L898.00,486.34L892.70,477.50Z" fill="#0000ff" fill-opacity="0.7" stroke="#000" stroke-opacity="0.7" stroke-width="1.7"/>
<path d="M911.00,469.16L916.30,478.00L911.00,486.84L905.70,478.00Z" fill="#0000ff" fill-opacity="0.7" stroke="#000" stroke-opacity="0.7" stroke-width="1.7"/>
<path d="M922.00,469.46L927.30,478.30L922.00,487.14L916.70,478.30Z" fill="#0000ff" fill-opacity="0.7" stroke="#000" stroke-opacity="0.7" stroke-width="1.7"/>
<path d="M959.70,470.56L965.00,479.40L959.70,488.24L954.40,479.40Z" fill="#0000ff" fill-opacity="0.7" stroke="#000" stroke-opacity="0.7" stroke-width="1.7"/>
<path d="M1002.00,472.16L1007.30,481.00L1002.00,489.84L996.70,481.00Z" fill="#0000ff" fill-opacity="0.7" stroke="#000" stroke-opacity="0.7" stroke-width="1.7"/>
<path d="M1033.80,472.97L1039.10,481.81L1033.80,490.65L1028.50,481.81Z" fill="#0000ff" fill-opacity="0.7" stroke="#000" stroke-opacity="0.7" stroke-width="1.7"/>
<path d="M1063.70,473.88L1069.00,482.72L1063.70,491.56L1058.40,482.72Z" fill="#0000ff" fill-opacity="0.7" stroke="#000" stroke-opacity="0.7" stroke-width="1.7"/>
<path d="M1091.00,475.16L1096.30,484.00L1091.00,492.84L1085.70,484.00Z" fill="#0000ff" fill-opacity="0.7" stroke="#000" stroke-opacity="0.7" stroke-width="1.7"/>
<path d="M1114.60,475.16L1119.90,484.00L1114.60,492.84L1109.30,484.00Z" fill="#0000ff" fill-opacity="0.7" stroke="#000" stroke-opacity="0.7" stroke-width="1.7"/>
<path d="M1132.80,475.16L1138.10,484.00L1132.80,492.84L1127.50,484.00Z" fill="#0000ff" fill-opacity="0.7" stroke="#000" stroke-opacity="0.7" stroke-width="1.7"/>
<path d="M1151.80,475.46L1157.10,484.30L1151.80,493.14L1146.50,484.30Z" fill="#0000ff" fill-opacity="0.7" stroke="#000" stroke-opacity="0.7" stroke-width="1.7"/>
<path d="M1167.60,475.57L1172.90,484.41L1167.60,493.25L1162.30,484.41Z" fill="#0000ff" fill-opacity="0.7" stroke="#000" stroke-opacity="0.7" stroke-width="1.7"/>
<path d="M1180.00,475.66L1185.30,484.50L1180.00,493.34L1174.70,484.50Z" fill="#0000ff" fill-opacity="0.7" stroke="#000" stroke-opacity="0.7" stroke-width="1.7"/>
<path d="M1188.70,475.73L1194.00,484.57L1188.70,493.41L1183.40,484.57Z" fill="#0000ff" fill-opacity="0.7" stroke="#000" stroke-opacity="0.7" stroke-width="1.7"/>
<path d="M1194.70,475.77L1200.00,484.61L1194.70,493.45L1189.40,484.61Z" fill="#0000ff" fill-opacity="0.7" stroke="#000" stroke-opacity="0.7" stroke-width="1.7"/>
<path d="M1199.90,475.81L1205.20,484.65L1199.90,493.49L1194.60,484.65Z" fill="#0000ff" fill-opacity="0.7" stroke="#000" stroke-opacity="0.7" stroke-width="1.7"/>
<path d="M1204.60,475.84L1209.90,484.68L1204.60,493.52L1199.30,484.68Z" fill="#0000ff" fill-opacity="0.7" stroke="#000" stroke-opacity="0.7" stroke-width="1.7"/>
<path d="M1208.30,475.87L1213.60,484.71L1208.30,493.55L1203.00,484.71Z" fill="#0000ff" fill-opacity="0.7" stroke="#000" stroke-opacity="0.7" stroke-width="1.7"/>
<path d="M1211.00,475.88L1216.30,484.72L1211.00,493.56L1205.70,484.72Z" fill="#0000ff" fill-opacity="0.7" stroke="#000" stroke-opacity="0.7" stroke-width="1.7"/>
<path d="M1213.00,475.90L1218.30,484.74L1213.00,493.58L1207.70,484.74Z" fill="#0000ff" fill-opacity="0.7" stroke="#000" stroke-opacity="0.7" stroke-width="1.7"/>
<path d="M1214.50,475.91L1219.80,484.75L1214.50,493.59L1209.20,484.75Z" fill="#0000ff" fill-opacity="0.7" stroke="#000" stroke-opacity="0.7" stroke-width="1.7"/>
<path d="M1215.80,475.92L1221.10,484.76L1215.80,493.60L1210.50,484.76Z" fill="#0000ff" fill-opacity="0.7" stroke="#000" stroke-opacity="0.7" stroke-width="1.7"/>
<path d="M1217.00,475.93L1222.30,484.77L1217.00,493.61L1211.70,484.77Z" fill="#0000ff" fill-opacity="0.7" stroke="#000" stroke-opacity="0.7" stroke-width="1.7"/>
<path d="M1218.00,475.93L1223.30,484.77L1218.00,493.61L1212.70,484.77Z" fill="#0000ff" fill-opacity="0.7" stroke="#000" stroke-opacity="0.7" stroke-width="1.7"/>
<path d="M1219.00,475.94L1224.30,484.78L1219.00,493.62L1213.70,484.78Z" fill="#0000ff" fill-opacity="0.7" stroke="#000" stroke-opacity="0.7" stroke-width="1.7"/>
<path d="M1219.80,475.95L1225.10,484.79L1219.80,493.63L1214.50,484.79Z" fill="#0000ff" fill-opacity="0.7" stroke="#000" stroke-opacity="0.7" stroke-width="1.7"/>
<path d="M1220.50,475.95L1225.80,484.79L1220.50,493.63L1215.20,484.79Z" fill="#0000ff" fill-opacity="0.7" stroke="#000" stroke-opacity="0.7" stroke-width="1.7"/>
<path d="M1221.10,475.96L1226.40,484.80L1221.10,493.64L1215.80,484.80Z" fill="#0000ff" fill-opacity="0.7" stroke="#000" stroke-opacity="0.7" stroke-width="1.7"/>
<path d="M174.00,135.00L346.00,135.00L346.50,145.00C363.36,144.77 380.74,144.36 397.60,144.30C431.06,144.19 465.54,144.32 499.00,144.50C508.24,144.55 517.76,144.73 527.00,145.00C534.92,145.23 543.08,145.66 551.00,146.00C558.59,146.32 566.41,146.74 574.00,147.00C581.92,147.27 590.08,147.31 598.00,147.60C604.60,147.84 611.40,148.26 618.00,148.60C620.31,148.72 622.75,148.45 625.00,149.00C630.07,150.24 635.08,152.25 640.00,154.00C643.17,155.13 646.42,156.35 649.50,157.70C654.68,159.98 660.05,162.27 665.00,165.00C670.79,168.19 676.91,171.38 682.00,175.60C687.73,180.36 692.01,186.97 697.50,192.00C702.56,196.64 708.35,200.76 713.90,204.80C717.43,207.37 721.09,210.06 725.00,212.00C727.88,213.43 731.11,214.48 734.30,214.90C739.11,215.54 744.15,215.03 749.00,215.20C754.28,215.39 759.73,215.62 765.00,216.00C769.79,216.35 774.70,217.17 779.50,217.40C784.28,217.63 789.22,217.34 794.00,217.40C798.95,217.47 804.05,217.74 809.00,217.80C814.94,217.87 821.06,217.63 827.00,217.80C833.94,218.00 841.07,218.59 848.00,218.90C852.29,219.09 856.71,219.20 861.00,219.30C865.29,219.40 869.71,219.38 874.00,219.50C877.96,219.61 882.04,219.92 886.00,220.00C889.96,220.08 894.04,219.92 898.00,220.00C902.29,220.09 906.71,220.29 911.00,220.50C914.63,220.68 918.36,221.08 922.00,221.20C934.47,221.61 947.33,221.83 959.80,222.10C973.59,222.39 987.81,222.62 1001.60,222.90C1012.26,223.12 1023.24,223.24 1033.90,223.60C1043.81,223.93 1053.99,224.67 1063.90,225.00C1072.84,225.30 1082.06,225.59 1091.00,225.50C1098.76,225.42 1106.74,224.78 1114.50,224.50C1120.57,224.28 1126.83,224.17 1132.90,224.00C1138.94,223.84 1145.16,223.57 1151.20,223.50C1174.40,223.24 1198.30,223.16 1221.50,223.00" fill="none" stroke="#000000" stroke-opacity="0.7" stroke-width="4.17" stroke-linecap="butt" stroke-linejoin="round" stroke-dasharray="12.5,12.5"/>
<path d="M229.35,128.75L241.85,141.25M229.35,141.25L241.85,128.75" stroke="#000" stroke-opacity="0.7" stroke-width="2" fill="none"/>
<path d="M339.75,128.75L352.25,141.25M339.75,141.25L352.25,128.75" stroke="#000" stroke-opacity="0.7" stroke-width="2" fill="none"/>
<path d="M391.35,138.05L403.85,150.55M391.35,150.55L403.85,138.05" stroke="#000" stroke-opacity="0.7" stroke-width="2" fill="none"/>
<path d="M493.35,138.26L505.85,150.76M493.35,150.76L505.85,138.26" stroke="#000" stroke-opacity="0.7" stroke-width="2" fill="none"/>
<path d="M521.55,138.78L534.05,151.28M521.55,151.28L534.05,138.78" stroke="#000" stroke-opacity="0.7" stroke-width="2" fill="none"/>
<path d="M545.55,139.78L558.05,152.28M545.55,152.28L558.05,139.78" stroke="#000" stroke-opacity="0.7" stroke-width="2" fill="none"/>
<path d="M568.75,140.78L581.25,153.28M568.75,153.28L581.25,140.78" stroke="#000" stroke-opacity="0.7" stroke-width="2" fill="none"/>
<path d="M592.75,141.40L605.25,153.90M592.75,153.90L605.25,141.40" stroke="#000" stroke-opacity="0.7" stroke-width="2" fill="none"/>
<path d="M611.75,142.35L624.25,154.85M611.75,154.85L624.25,142.35" stroke="#000" stroke-opacity="0.7" stroke-width="2" fill="none"/>
<path d="M643.75,151.69L656.25,164.19M643.75,164.19L656.25,151.69" stroke="#000" stroke-opacity="0.7" stroke-width="2" fill="none"/>
<path d="M675.75,169.35L688.25,181.85M675.75,181.85L688.25,169.35" stroke="#000" stroke-opacity="0.7" stroke-width="2" fill="none"/>
<path d="M691.35,185.83L703.85,198.33M691.35,198.33L703.85,185.83" stroke="#000" stroke-opacity="0.7" stroke-width="2" fill="none"/>
<path d="M707.65,198.55L720.15,211.05M707.65,211.05L720.15,198.55" stroke="#000" stroke-opacity="0.7" stroke-width="2" fill="none"/>
<path d="M728.75,208.66L741.25,221.16M728.75,221.16L741.25,208.66" stroke="#000" stroke-opacity="0.7" stroke-width="2" fill="none"/>
<path d="M742.75,208.95L755.25,221.45M742.75,221.45L755.25,208.95" stroke="#000" stroke-opacity="0.7" stroke-width="2" fill="none"/>
<path d="M758.75,209.75L771.25,222.25M758.75,222.25L771.25,209.75" stroke="#000" stroke-opacity="0.7" stroke-width="2" fill="none"/>
<path d="M773.25,211.15L785.75,223.65M773.25,223.65L785.75,211.15" stroke="#000" stroke-opacity="0.7" stroke-width="2" fill="none"/>
<path d="M787.75,211.15L800.25,223.65M787.75,223.65L800.25,211.15" stroke="#000" stroke-opacity="0.7" stroke-width="2" fill="none"/>
<path d="M802.75,211.55L815.25,224.05M802.75,224.05L815.25,211.55" stroke="#000" stroke-opacity="0.7" stroke-width="2" fill="none"/>
<path d="M821.55,211.59L834.05,224.09M821.55,224.09L834.05,211.59" stroke="#000" stroke-opacity="0.7" stroke-width="2" fill="none"/>
<path d="M841.75,212.65L854.25,225.15M841.75,225.15L854.25,212.65" stroke="#000" stroke-opacity="0.7" stroke-width="2" fill="none"/>
<path d="M854.75,213.05L867.25,225.55M854.75,225.55L867.25,213.05" stroke="#000" stroke-opacity="0.7" stroke-width="2" fill="none"/>
<path d="M867.75,213.25L880.25,225.75M867.75,225.75L880.25,213.25" stroke="#000" stroke-opacity="0.7" stroke-width="2" fill="none"/>
<path d="M880.35,213.75L892.85,226.25M880.35,226.25L892.85,213.75" stroke="#000" stroke-opacity="0.7" stroke-width="2" fill="none"/>
<path d="M891.75,213.75L904.25,226.25M891.75,226.25L904.25,213.75" stroke="#000" stroke-opacity="0.7" stroke-width="2" fill="none"/>
<path d="M904.75,214.25L917.25,226.75M904.75,226.75L917.25,214.25" stroke="#000" stroke-opacity="0.7" stroke-width="2" fill="none"/>
<path d="M915.75,214.95L928.25,227.45M915.75,227.45L928.25,214.95" stroke="#000" stroke-opacity="0.7" stroke-width="2" fill="none"/>
<path d="M953.45,215.85L965.95,228.35M953.45,228.35L965.95,215.85" stroke="#000" stroke-opacity="0.7" stroke-width="2" fill="none"/>
<path d="M995.75,216.66L1008.25,229.16M995.75,229.16L1008.25,216.66" stroke="#000" stroke-opacity="0.7" stroke-width="2" fill="none"/>
<path d="M1027.55,217.35L1040.05,229.85M1027.55,229.85L1040.05,217.35" stroke="#000" stroke-opacity="0.7" stroke-width="2" fill="none"/>
<path d="M1057.45,218.74L1069.95,231.24M1057.45,231.24L1069.95,218.74" stroke="#000" stroke-opacity="0.7" stroke-width="2" fill="none"/>
<path d="M1084.75,219.25L1097.25,231.75M1084.75,231.75L1097.25,219.25" stroke="#000" stroke-opacity="0.7" stroke-width="2" fill="none"/>
<path d="M1108.35,218.25L1120.85,230.75M1108.35,230.75L1120.85,218.25" stroke="#000" stroke-opacity="0.7" stroke-width="2" fill="none"/>
<path d="M1126.55,217.75L1139.05,230.25M1126.55,230.25L1139.05,217.75" stroke="#000" stroke-opacity="0.7" stroke-width="2" fill="none"/>
<path d="M1145.55,217.25L1158.05,229.75M1145.55,229.75L1158.05,217.25" stroke="#000" stroke-opacity="0.7" stroke-width="2" fill="none"/>
<path d="M1161.35,217.13L1173.85,229.63M1161.35,229.63L1173.85,217.13" stroke="#000" stroke-opacity="0.7" stroke-width="2" fill="none"/>
<path d="M1173.75,217.05L1186.25,229.55M1173.75,229.55L1186.25,217.05" stroke="#000" stroke-opacity="0.7" stroke-width="2" fill="none"/>
<path d="M1182.45,216.98L1194.95,229.48M1182.45,229.48L1194.95,216.98" stroke="#000" stroke-opacity="0.7" stroke-width="2" fill="none"/>
<path d="M1188.45,216.94L1200.95,229.44M1188.45,229.44L1200.95,216.94" stroke="#000" stroke-opacity="0.7" stroke-width="2" fill="none"/>
<path d="M1193.65,216.90L1206.15,229.40M1193.65,229.40L1206.15,216.90" stroke="#000" stroke-opacity="0.7" stroke-width="2" fill="none"/>
<path d="M1198.35,216.87L1210.85,229.37M1198.35,229.37L1210.85,216.87" stroke="#000" stroke-opacity="0.7" stroke-width="2" fill="none"/>
<path d="M1202.05,216.84L1214.55,229.34M1202.05,229.34L1214.55,216.84" stroke="#000" stroke-opacity="0.7" stroke-width="2" fill="none"/>
<path d="M1204.75,216.82L1217.25,229.32M1204.75,229.32L1217.25,216.82" stroke="#000" stroke-opacity="0.7" stroke-width="2" fill="none"/>
<path d="M1206.75,216.81L1219.25,229.31M1206.75,229.31L1219.25,216.81" stroke="#000" stroke-opacity="0.7" stroke-width="2" fill="none"/>
<path d="M1208.25,216.80L1220.75,229.30M1208.25,229.30L1220.75,216.80" stroke="#000" stroke-opacity="0.7" stroke-width="2" fill="none"/>
<path d="M1209.55,216.79L1222.05,229.29M1209.55,229.29L1222.05,216.79" stroke="#000" stroke-opacity="0.7" stroke-width="2" fill="none"/>
<path d="M1210.75,216.78L1223.25,229.28M1210.75,229.28L1223.25,216.78" stroke="#000" stroke-opacity="0.7" stroke-width="2" fill="none"/>
<path d="M1211.75,216.77L1224.25,229.27M1211.75,229.27L1224.25,216.77" stroke="#000" stroke-opacity="0.7" stroke-width="2" fill="none"/>
<path d="M1212.75,216.77L1225.25,229.27M1212.75,229.27L1225.25,216.77" stroke="#000" stroke-opacity="0.7" stroke-width="2" fill="none"/>
<path d="M1213.55,216.76L1226.05,229.26M1213.55,229.26L1226.05,216.76" stroke="#000" stroke-opacity="0.7" stroke-width="2" fill="none"/>
<path d="M1214.25,216.76L1226.75,229.26M1214.25,229.26L1226.75,216.76" stroke="#000" stroke-opacity="0.7" stroke-width="2" fill="none"/>
<path d="M1214.85,216.75L1227.35,229.25M1214.85,229.25L1227.35,216.75" stroke="#000" stroke-opacity="0.7" stroke-width="2" fill="none"/>
<path d="M728.00,950.00C728.16,884.00 728.29,816.00 728.50,750.00C728.79,660.24 729.17,567.76 729.50,478.00C731.32,468.26 733.20,458.24 735.00,448.50C736.73,439.10 738.52,429.41 740.20,420.00C741.32,413.74 741.92,407.17 743.50,401.00C744.80,395.90 746.86,390.85 748.90,386.00C750.33,382.58 751.40,378.64 754.00,376.00C756.94,373.00 761.24,371.48 765.00,369.60C766.55,368.83 768.28,368.24 770.00,368.00C773.14,367.57 776.43,367.51 779.60,367.60C784.23,367.74 788.98,368.39 793.60,368.70C798.68,369.05 803.93,369.10 809.00,369.60C814.96,370.19 821.04,371.37 827.00,372.00C833.45,372.69 840.14,373.01 846.60,373.60C851.03,374.00 855.57,374.61 860.00,375.00C864.28,375.37 868.71,375.56 873.00,375.90C877.10,376.22 881.30,376.69 885.40,377.00C889.22,377.29 893.17,377.44 897.00,377.70C901.09,377.97 905.30,378.40 909.40,378.60C913.22,378.79 917.18,378.67 921.00,378.90C933.55,379.66 946.45,380.83 959.00,381.60C973.18,382.48 987.80,383.27 1002.00,383.90C1012.39,384.36 1023.11,384.36 1033.50,384.90C1043.35,385.41 1053.45,386.56 1063.30,387.10C1072.27,387.59 1081.52,387.77 1090.50,388.00C1098.39,388.20 1106.51,388.23 1114.40,388.40C1120.44,388.53 1126.66,388.75 1132.70,388.90C1138.97,389.05 1145.43,389.24 1151.70,389.30C1174.73,389.53 1198.47,389.63 1221.50,389.80" fill="none" stroke="#ff0000" stroke-opacity="0.7" stroke-width="4.17" stroke-linecap="square" stroke-linejoin="round"/>
<path d="M741.25,448.50L728.75,442.25L728.75,454.75Z" fill="#ff0000" fill-opacity="0.7" stroke="#000" stroke-opacity="0.7" stroke-width="1.7"/>
<path d="M755.25,385.80L742.75,379.55L742.75,392.05Z" fill="#ff0000" fill-opacity="0.7" stroke="#000" stroke-opacity="0.7" stroke-width="1.7"/>
<path d="M771.25,369.60L758.75,363.35L758.75,375.85Z" fill="#ff0000" fill-opacity="0.7" stroke="#000" stroke-opacity="0.7" stroke-width="1.7"/>
<path d="M785.75,367.60L773.25,361.35L773.25,373.85Z" fill="#ff0000" fill-opacity="0.7" stroke="#000" stroke-opacity="0.7" stroke-width="1.7"/>
<path d="M800.25,368.72L787.75,362.47L787.75,374.97Z" fill="#ff0000" fill-opacity="0.7" stroke="#000" stroke-opacity="0.7" stroke-width="1.7"/>
<path d="M815.25,369.60L802.75,363.35L802.75,375.85Z" fill="#ff0000" fill-opacity="0.7" stroke="#000" stroke-opacity="0.7" stroke-width="1.7"/>
<path d="M834.05,372.07L821.55,365.82L821.55,378.32Z" fill="#ff0000" fill-opacity="0.7" stroke="#000" stroke-opacity="0.7" stroke-width="1.7"/>
<path d="M854.25,373.75L841.75,367.50L841.75,380.00Z" fill="#ff0000" fill-opacity="0.7" stroke="#000" stroke-opacity="0.7" stroke-width="1.7"/>
<path d="M867.25,375.07L854.75,368.82L854.75,381.32Z" fill="#ff0000" fill-opacity="0.7" stroke="#000" stroke-opacity="0.7" stroke-width="1.7"/>
<path d="M880.25,375.99L867.75,369.74L867.75,382.24Z" fill="#ff0000" fill-opacity="0.7" stroke="#000" stroke-opacity="0.7" stroke-width="1.7"/>
<path d="M892.85,377.07L880.35,370.82L880.35,383.32Z" fill="#ff0000" fill-opacity="0.7" stroke="#000" stroke-opacity="0.7" stroke-width="1.7"/>
<path d="M904.25,377.77L891.75,371.52L891.75,384.02Z" fill="#ff0000" fill-opacity="0.7" stroke="#000" stroke-opacity="0.7" stroke-width="1.7"/>
<path d="M917.25,378.64L904.75,372.39L904.75,384.89Z" fill="#ff0000" fill-opacity="0.7" stroke="#000" stroke-opacity="0.7" stroke-width="1.7"/>
<path d="M928.25,378.97L915.75,372.72L915.75,385.22Z" fill="#ff0000" fill-opacity="0.7" stroke="#000" stroke-opacity="0.7" stroke-width="1.7"/>
<path d="M965.95,381.64L953.45,375.39L953.45,387.89Z" fill="#ff0000" fill-opacity="0.7" stroke="#000" stroke-opacity="0.7" stroke-width="1.7"/>
<path d="M1008.25,383.90L995.75,377.65L995.75,390.15Z" fill="#ff0000" fill-opacity="0.7" stroke="#000" stroke-opacity="0.7" stroke-width="1.7"/>
<path d="M1040.05,384.92L1027.55,378.67L1027.55,391.17Z" fill="#ff0000" fill-opacity="0.7" stroke="#000" stroke-opacity="0.7" stroke-width="1.7"/>
<path d="M1069.95,387.11L1057.45,380.86L1057.45,393.36Z" fill="#ff0000" fill-opacity="0.7" stroke="#000" stroke-opacity="0.7" stroke-width="1.7"/>
<path d="M1097.25,388.01L1084.75,381.76L1084.75,394.26Z" fill="#ff0000" fill-opacity="0.7" stroke="#000" stroke-opacity="0.7" stroke-width="1.7"/>
<path d="M1120.85,388.41L1108.35,382.16L1108.35,394.66Z" fill="#ff0000" fill-opacity="0.7" stroke="#000" stroke-opacity="0.7" stroke-width="1.7"/>
<path d="M1139.05,388.90L1126.55,382.65L1126.55,395.15Z" fill="#ff0000" fill-opacity="0.7" stroke="#000" stroke-opacity="0.7" stroke-width="1.7"/>
<path d="M1158.05,389.30L1145.55,383.05L1145.55,395.55Z" fill="#ff0000" fill-opacity="0.7" stroke="#000" stroke-opacity="0.7" stroke-width="1.7"/>
<path d="M1173.85,389.41L1161.35,383.16L1161.35,395.66Z" fill="#ff0000" fill-opacity="0.7" stroke="#000" stroke-opacity="0.7" stroke-width="1.7"/>
<path d="M1186.25,389.50L1173.75,383.25L1173.75,395.75Z" fill="#ff0000" fill-opacity="0.7" stroke="#000" stroke-opacity="0.7" stroke-width="1.7"/>
<path d="M1194.95,389.57L1182.45,383.32L1182.45,395.82Z" fill="#ff0000" fill-opacity="0.7" stroke="#000" stroke-opacity="0.7" stroke-width="1.7"/>
<path d="M1200.95,389.61L1188.45,383.36L1188.45,395.86Z" fill="#ff0000" fill-opacity="0.7" stroke="#000" stroke-opacity="0.7" stroke-width="1.7"/>
<path d="M1206.15,389.65L1193.65,383.40L1193.65,395.90Z" fill="#ff0000" fill-opacity="0.7" stroke="#000" stroke-opacity="0.7" stroke-width="1.7"/>
<path d="M1210.85,389.68L1198.35,383.43L1198.35,395.93Z" fill="#ff0000" fill-opacity="0.7" stroke="#000" stroke-opacity="0.7" stroke-width="1.7"/>
<path d="M1214.55,389.71L1202.05,383.46L1202.05,395.96Z" fill="#ff0000" fill-opacity="0.7" stroke="#000" stroke-opacity="0.7" stroke-width="1.7"/>
<path d="M1217.25,389.72L1204.75,383.47L1204.75,395.97Z" fill="#ff0000" fill-opacity="0.7" stroke="#000" stroke-opacity="0.7" stroke-width="1.7"/>
<path d="M1219.25,389.74L1206.75,383.49L1206.75,395.99Z" fill="#ff0000" fill-opacity="0.7" stroke="#000" stroke-opacity="0.7" stroke-width="1.7"/>
<path d="M1220.75,389.75L1208.25,383.50L1208.25,396.00Z" fill="#ff0000" fill-opacity="0.7" stroke="#000" stroke-opacity="0.7" stroke-width="1.7"/>
<path d="M1222.05,389.76L1209.55,383.51L1209.55,396.01Z" fill="#ff0000" fill-opacity="0.7" stroke="#000" stroke-opacity="0.7" stroke-width="1.7"/>
<path d="M1223.25,389.77L1210.75,383.52L1210.75,396.02Z" fill="#ff0000" fill-opacity="0.7" stroke="#000" stroke-opacity="0.7" stroke-width="1.7"/>
<path d="M1224.25,389.77L1211.75,383.52L1211.75,396.02Z" fill="#ff0000" fill-opacity="0.7" stroke="#000" stroke-opacity="0.7" stroke-width="1.7"/>
<path d="M1225.25,389.78L1212.75,383.53L1212.75,396.03Z" fill="#ff0000" fill-opacity="0.7" stroke="#000" stroke-opacity="0.7" stroke-width="1.7"/>
<path d="M1226.05,389.79L1213.55,383.54L1213.55,396.04Z" fill="#ff0000" fill-opacity="0.7" stroke="#000" stroke-opacity="0.7" stroke-width="1.7"/>
<path d="M1226.75,389.79L1214.25,383.54L1214.25,396.04Z" fill="#ff0000" fill-opacity="0.7" stroke="#000" stroke-opacity="0.7" stroke-width="1.7"/>
<path d="M1227.35,389.80L1214.85,383.55L1214.85,396.05Z" fill="#ff0000" fill-opacity="0.7" stroke="#000" stroke-opacity="0.7" stroke-width="1.7"/>
<path d="M174.00,765.70L346.20,765.70L346.50,522.90C348.61,522.70 350.81,521.95 352.90,522.30C367.78,524.77 382.89,528.52 397.70,531.40C431.44,537.96 466.15,544.94 500.00,550.90C509.07,552.50 518.59,552.94 527.70,554.30C535.66,555.49 543.77,557.25 551.70,558.60C559.25,559.89 567.01,561.27 574.60,562.30C578.67,562.85 582.89,563.40 587.00,563.40C590.85,563.40 594.87,563.23 598.60,562.30C605.16,560.67 612.09,558.99 618.00,555.70C624.29,552.19 629.79,546.98 635.00,542.00C640.39,536.85 645.23,530.83 650.00,525.10C656.78,516.96 663.69,508.50 670.00,500.00C674.26,494.27 677.67,487.68 682.00,482.00C686.93,475.54 692.49,469.27 698.00,463.30C703.06,457.81 708.21,452.01 714.00,447.30C716.66,445.14 719.94,442.05 723.30,442.70C727.93,443.59 730.48,449.21 734.70,451.30C739.00,453.44 744.03,454.15 748.70,455.30C753.94,456.59 759.40,457.66 764.70,458.70C769.50,459.64 774.48,460.43 779.30,461.30C784.15,462.18 789.17,463.02 794.00,464.00C798.94,465.00 803.98,466.24 808.90,467.30C815.30,468.68 821.92,469.97 828.30,471.40C834.72,472.84 841.23,474.79 847.70,476.00C852.17,476.84 856.93,476.75 861.40,477.60C865.63,478.40 869.79,480.11 874.00,481.00C878.11,481.87 882.44,482.26 886.60,482.90C890.36,483.48 894.25,484.06 898.00,484.70C902.17,485.41 906.45,486.20 910.60,487.00C914.37,487.72 918.20,488.77 922.00,489.30C934.41,491.02 947.27,492.22 959.70,493.80C973.67,495.58 988.03,497.66 1002.00,499.50C1012.39,500.87 1023.11,502.14 1033.50,503.50C1043.34,504.78 1053.43,506.44 1063.30,507.50C1072.25,508.46 1081.53,508.88 1090.50,509.60C1098.39,510.23 1106.52,510.82 1114.40,511.60C1120.45,512.20 1126.64,513.30 1132.70,513.80C1138.96,514.32 1145.43,514.37 1151.70,514.70C1156.88,514.97 1162.21,515.47 1167.40,515.60C1185.25,516.06 1203.65,516.20 1221.50,516.50" fill="none" stroke="#ff0000" stroke-opacity="0.7" stroke-width="4.17" stroke-linecap="square" stroke-linejoin="round"/>
<path d="M235.60,760.30L241.69,764.72L239.36,771.88L231.84,771.88L229.51,764.72Z" fill="#ff0000" fill-opacity="0.7" stroke="#000" stroke-opacity="0.7" stroke-width="1.7"/>
<path d="M346.00,760.30L352.09,764.72L349.76,771.88L342.24,771.88L339.91,764.72Z" fill="#ff0000" fill-opacity="0.7" stroke="#000" stroke-opacity="0.7" stroke-width="1.7"/>
<path d="M397.60,525.98L403.69,530.40L401.36,537.56L393.84,537.56L391.51,530.40Z" fill="#ff0000" fill-opacity="0.7" stroke="#000" stroke-opacity="0.7" stroke-width="1.7"/>
<path d="M499.60,545.42L505.69,549.85L503.36,557.00L495.84,557.00L493.51,549.85Z" fill="#ff0000" fill-opacity="0.7" stroke="#000" stroke-opacity="0.7" stroke-width="1.7"/>
<path d="M527.80,548.92L533.89,553.34L531.56,560.50L524.04,560.50L521.71,553.34Z" fill="#ff0000" fill-opacity="0.7" stroke="#000" stroke-opacity="0.7" stroke-width="1.7"/>
<path d="M551.80,553.22L557.89,557.64L555.56,564.79L548.04,564.79L545.71,557.64Z" fill="#ff0000" fill-opacity="0.7" stroke="#000" stroke-opacity="0.7" stroke-width="1.7"/>
<path d="M575.00,556.94L581.09,561.36L578.76,568.51L571.24,568.51L568.91,561.36Z" fill="#ff0000" fill-opacity="0.7" stroke="#000" stroke-opacity="0.7" stroke-width="1.7"/>
<path d="M599.00,556.76L605.09,561.19L602.76,568.34L595.24,568.34L592.91,561.19Z" fill="#ff0000" fill-opacity="0.7" stroke="#000" stroke-opacity="0.7" stroke-width="1.7"/>
<path d="M618.00,550.30L624.09,554.72L621.76,561.88L614.24,561.88L611.91,554.72Z" fill="#ff0000" fill-opacity="0.7" stroke="#000" stroke-opacity="0.7" stroke-width="1.7"/>
<path d="M650.00,519.70L656.09,524.12L653.76,531.28L646.24,531.28L643.91,524.12Z" fill="#ff0000" fill-opacity="0.7" stroke="#000" stroke-opacity="0.7" stroke-width="1.7"/>
<path d="M682.00,476.60L688.09,481.02L685.76,488.18L678.24,488.18L675.91,481.02Z" fill="#ff0000" fill-opacity="0.7" stroke="#000" stroke-opacity="0.7" stroke-width="1.7"/>
<path d="M697.60,458.37L703.69,462.79L701.36,469.95L693.84,469.95L691.51,462.79Z" fill="#ff0000" fill-opacity="0.7" stroke="#000" stroke-opacity="0.7" stroke-width="1.7"/>
<path d="M713.90,442.00L719.99,446.42L717.66,453.58L710.14,453.58L707.81,446.42Z" fill="#ff0000" fill-opacity="0.7" stroke="#000" stroke-opacity="0.7" stroke-width="1.7"/>
<path d="M735.00,445.99L741.09,450.41L738.76,457.56L731.24,457.56L728.91,450.41Z" fill="#ff0000" fill-opacity="0.7" stroke="#000" stroke-opacity="0.7" stroke-width="1.7"/>
<path d="M749.00,449.96L755.09,454.39L752.76,461.54L745.24,461.54L742.91,454.39Z" fill="#ff0000" fill-opacity="0.7" stroke="#000" stroke-opacity="0.7" stroke-width="1.7"/>
<path d="M765.00,453.35L771.09,457.78L768.76,464.93L761.24,464.93L758.91,457.78Z" fill="#ff0000" fill-opacity="0.7" stroke="#000" stroke-opacity="0.7" stroke-width="1.7"/>
<path d="M779.50,455.94L785.59,460.36L783.26,467.51L775.74,467.51L773.41,460.36Z" fill="#ff0000" fill-opacity="0.7" stroke="#000" stroke-opacity="0.7" stroke-width="1.7"/>
<path d="M794.00,458.60L800.09,463.02L797.76,470.18L790.24,470.18L787.91,463.02Z" fill="#ff0000" fill-opacity="0.7" stroke="#000" stroke-opacity="0.7" stroke-width="1.7"/>
<path d="M809.00,461.92L815.09,466.34L812.76,473.50L805.24,473.50L802.91,466.34Z" fill="#ff0000" fill-opacity="0.7" stroke="#000" stroke-opacity="0.7" stroke-width="1.7"/>
<path d="M827.80,465.89L833.89,470.32L831.56,477.47L824.04,477.47L821.71,470.32Z" fill="#ff0000" fill-opacity="0.7" stroke="#000" stroke-opacity="0.7" stroke-width="1.7"/>
<path d="M848.00,470.64L854.09,475.06L851.76,482.21L844.24,482.21L841.91,475.06Z" fill="#ff0000" fill-opacity="0.7" stroke="#000" stroke-opacity="0.7" stroke-width="1.7"/>
<path d="M861.00,472.15L867.09,476.58L864.76,483.73L857.24,483.73L854.91,476.58Z" fill="#ff0000" fill-opacity="0.7" stroke="#000" stroke-opacity="0.7" stroke-width="1.7"/>
<path d="M874.00,475.60L880.09,480.02L877.76,487.18L870.24,487.18L867.91,480.02Z" fill="#ff0000" fill-opacity="0.7" stroke="#000" stroke-opacity="0.7" stroke-width="1.7"/>
<path d="M886.60,477.50L892.69,481.92L890.36,489.08L882.84,489.08L880.51,481.92Z" fill="#ff0000" fill-opacity="0.7" stroke="#000" stroke-opacity="0.7" stroke-width="1.7"/>
<path d="M898.00,479.30L904.09,483.72L901.76,490.88L894.24,490.88L891.91,483.72Z" fill="#ff0000" fill-opacity="0.7" stroke="#000" stroke-opacity="0.7" stroke-width="1.7"/>
<path d="M911.00,481.68L917.09,486.10L914.76,493.26L907.24,493.26L904.91,486.10Z" fill="#ff0000" fill-opacity="0.7" stroke="#000" stroke-opacity="0.7" stroke-width="1.7"/>
<path d="M922.00,483.90L928.09,488.32L925.76,495.48L918.24,495.48L915.91,488.32Z" fill="#ff0000" fill-opacity="0.7" stroke="#000" stroke-opacity="0.7" stroke-width="1.7"/>
<path d="M959.70,488.40L965.79,492.82L963.46,499.98L955.94,499.98L953.61,492.82Z" fill="#ff0000" fill-opacity="0.7" stroke="#000" stroke-opacity="0.7" stroke-width="1.7"/>
<path d="M1002.00,494.10L1008.09,498.52L1005.76,505.68L998.24,505.68L995.91,498.52Z" fill="#ff0000" fill-opacity="0.7" stroke="#000" stroke-opacity="0.7" stroke-width="1.7"/>
<path d="M1033.80,498.14L1039.89,502.56L1037.56,509.72L1030.04,509.72L1027.71,502.56Z" fill="#ff0000" fill-opacity="0.7" stroke="#000" stroke-opacity="0.7" stroke-width="1.7"/>
<path d="M1063.70,502.13L1069.79,506.55L1067.46,513.71L1059.94,513.71L1057.61,506.55Z" fill="#ff0000" fill-opacity="0.7" stroke="#000" stroke-opacity="0.7" stroke-width="1.7"/>
<path d="M1091.00,504.24L1097.09,508.66L1094.76,515.82L1087.24,515.82L1084.91,508.66Z" fill="#ff0000" fill-opacity="0.7" stroke="#000" stroke-opacity="0.7" stroke-width="1.7"/>
<path d="M1114.60,506.22L1120.69,510.65L1118.36,517.80L1110.84,517.80L1108.51,510.65Z" fill="#ff0000" fill-opacity="0.7" stroke="#000" stroke-opacity="0.7" stroke-width="1.7"/>
<path d="M1132.80,508.40L1138.89,512.83L1136.56,519.98L1129.04,519.98L1126.71,512.83Z" fill="#ff0000" fill-opacity="0.7" stroke="#000" stroke-opacity="0.7" stroke-width="1.7"/>
<path d="M1151.80,509.31L1157.89,513.73L1155.56,520.88L1148.04,520.88L1145.71,513.73Z" fill="#ff0000" fill-opacity="0.7" stroke="#000" stroke-opacity="0.7" stroke-width="1.7"/>
<path d="M1167.60,510.20L1173.69,514.63L1171.36,521.78L1163.84,521.78L1161.51,514.63Z" fill="#ff0000" fill-opacity="0.7" stroke="#000" stroke-opacity="0.7" stroke-width="1.7"/>
<path d="M1180.00,510.41L1186.09,514.83L1183.76,521.99L1176.24,521.99L1173.91,514.83Z" fill="#ff0000" fill-opacity="0.7" stroke="#000" stroke-opacity="0.7" stroke-width="1.7"/>
<path d="M1188.70,510.55L1194.79,514.98L1192.46,522.13L1184.94,522.13L1182.61,514.98Z" fill="#ff0000" fill-opacity="0.7" stroke="#000" stroke-opacity="0.7" stroke-width="1.7"/>
<path d="M1194.70,510.65L1200.79,515.08L1198.46,522.23L1190.94,522.23L1188.61,515.08Z" fill="#ff0000" fill-opacity="0.7" stroke="#000" stroke-opacity="0.7" stroke-width="1.7"/>
<path d="M1199.90,510.74L1205.99,515.16L1203.66,522.32L1196.14,522.32L1193.81,515.16Z" fill="#ff0000" fill-opacity="0.7" stroke="#000" stroke-opacity="0.7" stroke-width="1.7"/>
<path d="M1204.60,510.82L1210.69,515.24L1208.36,522.40L1200.84,522.40L1198.51,515.24Z" fill="#ff0000" fill-opacity="0.7" stroke="#000" stroke-opacity="0.7" stroke-width="1.7"/>
<path d="M1208.30,510.88L1214.39,515.30L1212.06,522.46L1204.54,522.46L1202.21,515.30Z" fill="#ff0000" fill-opacity="0.7" stroke="#000" stroke-opacity="0.7" stroke-width="1.7"/>
<path d="M1211.00,510.93L1217.09,515.35L1214.76,522.50L1207.24,522.50L1204.91,515.35Z" fill="#ff0000" fill-opacity="0.7" stroke="#000" stroke-opacity="0.7" stroke-width="1.7"/>
<path d="M1213.00,510.96L1219.09,515.38L1216.76,522.54L1209.24,522.54L1206.91,515.38Z" fill="#ff0000" fill-opacity="0.7" stroke="#000" stroke-opacity="0.7" stroke-width="1.7"/>
<path d="M1214.50,510.98L1220.59,515.41L1218.26,522.56L1210.74,522.56L1208.41,515.41Z" fill="#ff0000" fill-opacity="0.7" stroke="#000" stroke-opacity="0.7" stroke-width="1.7"/>
<path d="M1215.80,511.01L1221.89,515.43L1219.56,522.58L1212.04,522.58L1209.71,515.43Z" fill="#ff0000" fill-opacity="0.7" stroke="#000" stroke-opacity="0.7" stroke-width="1.7"/>
<path d="M1217.00,511.03L1223.09,515.45L1220.76,522.60L1213.24,522.60L1210.91,515.45Z" fill="#ff0000" fill-opacity="0.7" stroke="#000" stroke-opacity="0.7" stroke-width="1.7"/>
<path d="M1218.00,511.04L1224.09,515.46L1221.76,522.62L1214.24,522.62L1211.91,515.46Z" fill="#ff0000" fill-opacity="0.7" stroke="#000" stroke-opacity="0.7" stroke-width="1.7"/>
<path d="M1219.00,511.06L1225.09,515.48L1222.76,522.64L1215.24,522.64L1212.91,515.48Z" fill="#ff0000" fill-opacity="0.7" stroke="#000" stroke-opacity="0.7" stroke-width="1.7"/>
<path d="M1219.80,511.07L1225.89,515.49L1223.56,522.65L1216.04,522.65L1213.71,515.49Z" fill="#ff0000" fill-opacity="0.7" stroke="#000" stroke-opacity="0.7" stroke-width="1.7"/>
<path d="M1220.50,511.08L1226.59,515.51L1224.26,522.66L1216.74,522.66L1214.41,515.51Z" fill="#ff0000" fill-opacity="0.7" stroke="#000" stroke-opacity="0.7" stroke-width="1.7"/>
<path d="M1221.10,511.09L1227.19,515.52L1224.86,522.67L1217.34,522.67L1215.01,515.52Z" fill="#ff0000" fill-opacity="0.7" stroke="#000" stroke-opacity="0.7" stroke-width="1.7"/>
<path d="M174.00,288.60L346.00,288.60L346.50,223.00C363.36,223.00 380.74,223.00 397.60,223.00C431.26,223.00 465.94,223.08 499.60,223.00C532.40,222.92 566.20,222.78 599.00,222.50C605.27,222.45 611.73,222.14 618.00,222.00C628.43,221.77 639.17,221.48 649.60,221.40C660.29,221.32 671.31,221.50 682.00,221.50C687.28,221.50 692.72,221.55 698.00,221.40C703.28,221.25 708.71,220.51 714.00,220.60C720.94,220.71 728.10,221.25 735.00,222.00C739.66,222.51 744.35,223.78 749.00,224.40C754.26,225.10 759.75,225.24 765.00,226.00C769.82,226.70 774.72,227.85 779.50,228.80C784.22,229.73 789.07,230.79 793.80,231.70C798.81,232.67 803.97,233.64 809.00,234.50C814.93,235.52 821.09,236.28 827.00,237.40C833.86,238.69 840.84,240.47 847.70,241.80C852.07,242.65 856.63,243.15 861.00,244.00C865.25,244.83 869.54,246.10 873.80,246.90C878.00,247.69 882.36,248.29 886.60,248.80C890.35,249.25 894.25,249.35 898.00,249.80C902.31,250.31 906.72,251.02 911.00,251.70C914.64,252.28 918.35,253.10 922.00,253.60C934.36,255.28 947.15,256.53 959.50,258.30C973.36,260.29 987.51,263.21 1001.40,265.00C1012.05,266.38 1023.11,266.92 1033.80,267.90C1043.67,268.80 1053.84,269.72 1063.70,270.70C1072.72,271.60 1081.99,272.68 1091.00,273.60C1098.78,274.40 1106.80,275.27 1114.60,275.90C1120.60,276.39 1126.79,276.66 1132.80,277.00C1139.07,277.35 1145.53,277.77 1151.80,278.00C1157.01,278.19 1162.39,278.17 1167.60,278.30C1171.63,278.40 1175.77,278.61 1179.80,278.70C1193.56,279.01 1207.74,279.24 1221.50,279.50" fill="none" stroke="#ff0000" stroke-opacity="0.7" stroke-width="4.17" stroke-linecap="butt" stroke-linejoin="round" stroke-dasharray="2.08,6.25"/>
<circle cx="235.60" cy="288.60" r="3.3" fill="#ff0000" fill-opacity="0.7" stroke="#ff0000" stroke-opacity="0.7" stroke-width="1.5"/>
<circle cx="346.00" cy="288.60" r="3.3" fill="#ff0000" fill-opacity="0.7" stroke="#ff0000" stroke-opacity="0.7" stroke-width="1.5"/>
<circle cx="397.60" cy="223.00" r="3.3" fill="#ff0000" fill-opacity="0.7" stroke="#ff0000" stroke-opacity="0.7" stroke-width="1.5"/>
<circle cx="499.60" cy="223.00" r="3.3" fill="#ff0000" fill-opacity="0.7" stroke="#ff0000" stroke-opacity="0.7" stroke-width="1.5"/>
<circle cx="527.80" cy="222.86" r="3.3" fill="#ff0000" fill-opacity="0.7" stroke="#ff0000" stroke-opacity="0.7" stroke-width="1.5"/>
<circle cx="551.80" cy="222.74" r="3.3" fill="#ff0000" fill-opacity="0.7" stroke="#ff0000" stroke-opacity="0.7" stroke-width="1.5"/>
<circle cx="575.00" cy="222.62" r="3.3" fill="#ff0000" fill-opacity="0.7" stroke="#ff0000" stroke-opacity="0.7" stroke-width="1.5"/>
<circle cx="599.00" cy="222.50" r="3.3" fill="#ff0000" fill-opacity="0.7" stroke="#ff0000" stroke-opacity="0.7" stroke-width="1.5"/>
<circle cx="618.00" cy="222.00" r="3.3" fill="#ff0000" fill-opacity="0.7" stroke="#ff0000" stroke-opacity="0.7" stroke-width="1.5"/>
<circle cx="650.00" cy="221.40" r="3.3" fill="#ff0000" fill-opacity="0.7" stroke="#ff0000" stroke-opacity="0.7" stroke-width="1.5"/>
<circle cx="682.00" cy="221.50" r="3.3" fill="#ff0000" fill-opacity="0.7" stroke="#ff0000" stroke-opacity="0.7" stroke-width="1.5"/>
<circle cx="697.60" cy="221.40" r="3.3" fill="#ff0000" fill-opacity="0.7" stroke="#ff0000" stroke-opacity="0.7" stroke-width="1.5"/>
<circle cx="713.90" cy="220.60" r="3.3" fill="#ff0000" fill-opacity="0.7" stroke="#ff0000" stroke-opacity="0.7" stroke-width="1.5"/>
<circle cx="735.00" cy="222.00" r="3.3" fill="#ff0000" fill-opacity="0.7" stroke="#ff0000" stroke-opacity="0.7" stroke-width="1.5"/>
<circle cx="749.00" cy="224.40" r="3.3" fill="#ff0000" fill-opacity="0.7" stroke="#ff0000" stroke-opacity="0.7" stroke-width="1.5"/>
<circle cx="765.00" cy="226.00" r="3.3" fill="#ff0000" fill-opacity="0.7" stroke="#ff0000" stroke-opacity="0.7" stroke-width="1.5"/>
<circle cx="779.50" cy="228.80" r="3.3" fill="#ff0000" fill-opacity="0.7" stroke="#ff0000" stroke-opacity="0.7" stroke-width="1.5"/>
<circle cx="794.00" cy="231.74" r="3.3" fill="#ff0000" fill-opacity="0.7" stroke="#ff0000" stroke-opacity="0.7" stroke-width="1.5"/>
<circle cx="809.00" cy="234.50" r="3.3" fill="#ff0000" fill-opacity="0.7" stroke="#ff0000" stroke-opacity="0.7" stroke-width="1.5"/>
<circle cx="827.80" cy="237.57" r="3.3" fill="#ff0000" fill-opacity="0.7" stroke="#ff0000" stroke-opacity="0.7" stroke-width="1.5"/>
<circle cx="848.00" cy="241.85" r="3.3" fill="#ff0000" fill-opacity="0.7" stroke="#ff0000" stroke-opacity="0.7" stroke-width="1.5"/>
<circle cx="861.00" cy="244.00" r="3.3" fill="#ff0000" fill-opacity="0.7" stroke="#ff0000" stroke-opacity="0.7" stroke-width="1.5"/>
<circle cx="874.00" cy="246.93" r="3.3" fill="#ff0000" fill-opacity="0.7" stroke="#ff0000" stroke-opacity="0.7" stroke-width="1.5"/>
<circle cx="886.60" cy="248.80" r="3.3" fill="#ff0000" fill-opacity="0.7" stroke="#ff0000" stroke-opacity="0.7" stroke-width="1.5"/>
<circle cx="898.00" cy="249.80" r="3.3" fill="#ff0000" fill-opacity="0.7" stroke="#ff0000" stroke-opacity="0.7" stroke-width="1.5"/>
<circle cx="911.00" cy="251.70" r="3.3" fill="#ff0000" fill-opacity="0.7" stroke="#ff0000" stroke-opacity="0.7" stroke-width="1.5"/>
<circle cx="922.00" cy="253.60" r="3.3" fill="#ff0000" fill-opacity="0.7" stroke="#ff0000" stroke-opacity="0.7" stroke-width="1.5"/>
<circle cx="959.70" cy="258.33" r="3.3" fill="#ff0000" fill-opacity="0.7" stroke="#ff0000" stroke-opacity="0.7" stroke-width="1.5"/>
<circle cx="1002.00" cy="265.05" r="3.3" fill="#ff0000" fill-opacity="0.7" stroke="#ff0000" stroke-opacity="0.7" stroke-width="1.5"/>
<circle cx="1033.80" cy="267.90" r="3.3" fill="#ff0000" fill-opacity="0.7" stroke="#ff0000" stroke-opacity="0.7" stroke-width="1.5"/>
<circle cx="1063.70" cy="270.70" r="3.3" fill="#ff0000" fill-opacity="0.7" stroke="#ff0000" stroke-opacity="0.7" stroke-width="1.5"/>
<circle cx="1091.00" cy="273.60" r="3.3" fill="#ff0000" fill-opacity="0.7" stroke="#ff0000" stroke-opacity="0.7" stroke-width="1.5"/>
<circle cx="1114.60" cy="275.90" r="3.3" fill="#ff0000" fill-opacity="0.7" stroke="#ff0000" stroke-opacity="0.7" stroke-width="1.5"/>
<circle cx="1132.80" cy="277.00" r="3.3" fill="#ff0000" fill-opacity="0.7" stroke="#ff0000" stroke-opacity="0.7" stroke-width="1.5"/>
<circle cx="1151.80" cy="278.00" r="3.3" fill="#ff0000" fill-opacity="0.7" stroke="#ff0000" stroke-opacity="0.7" stroke-width="1.5"/>
<circle cx="1167.60" cy="278.30" r="3.3" fill="#ff0000" fill-opacity="0.7" stroke="#ff0000" stroke-opacity="0.7" stroke-width="1.5"/>
<circle cx="1180.00" cy="278.70" r="3.3" fill="#ff0000" fill-opacity="0.7" stroke="#ff0000" stroke-opacity="0.7" stroke-width="1.5"/>
<circle cx="1188.70" cy="278.87" r="3.3" fill="#ff0000" fill-opacity="0.7" stroke="#ff0000" stroke-opacity="0.7" stroke-width="1.5"/>
<circle cx="1194.70" cy="278.99" r="3.3" fill="#ff0000" fill-opacity="0.7" stroke="#ff0000" stroke-opacity="0.7" stroke-width="1.5"/>
<circle cx="1199.90" cy="279.09" r="3.3" fill="#ff0000" fill-opacity="0.7" stroke="#ff0000" stroke-opacity="0.7" stroke-width="1.5"/>
<circle cx="1204.60" cy="279.18" r="3.3" fill="#ff0000" fill-opacity="0.7" stroke="#ff0000" stroke-opacity="0.7" stroke-width="1.5"/>
<circle cx="1208.30" cy="279.25" r="3.3" fill="#ff0000" fill-opacity="0.7" stroke="#ff0000" stroke-opacity="0.7" stroke-width="1.5"/>
<circle cx="1211.00" cy="279.30" r="3.3" fill="#ff0000" fill-opacity="0.7" stroke="#ff0000" stroke-opacity="0.7" stroke-width="1.5"/>
<circle cx="1213.00" cy="279.34" r="3.3" fill="#ff0000" fill-opacity="0.7" stroke="#ff0000" stroke-opacity="0.7" stroke-width="1.5"/>
<circle cx="1214.50" cy="279.37" r="3.3" fill="#ff0000" fill-opacity="0.7" stroke="#ff0000" stroke-opacity="0.7" stroke-width="1.5"/>
<circle cx="1215.80" cy="279.39" r="3.3" fill="#ff0000" fill-opacity="0.7" stroke="#ff0000" stroke-opacity="0.7" stroke-width="1.5"/>
<circle cx="1217.00" cy="279.41" r="3.3" fill="#ff0000" fill-opacity="0.7" stroke="#ff0000" stroke-opacity="0.7" stroke-width="1.5"/>
<circle cx="1218.00" cy="279.43" r="3.3" fill="#ff0000" fill-opacity="0.7" stroke="#ff0000" stroke-opacity="0.7" stroke-width="1.5"/>
<circle cx="1219.00" cy="279.45" r="3.3" fill="#ff0000" fill-opacity="0.7" stroke="#ff0000" stroke-opacity="0.7" stroke-width="1.5"/>
<circle cx="1219.80" cy="279.47" r="3.3" fill="#ff0000" fill-opacity="0.7" stroke="#ff0000" stroke-opacity="0.7" stroke-width="1.5"/>
<circle cx="1220.50" cy="279.48" r="3.3" fill="#ff0000" fill-opacity="0.7" stroke="#ff0000" stroke-opacity="0.7" stroke-width="1.5"/>
<circle cx="1221.10" cy="279.49" r="3.3" fill="#ff0000" fill-opacity="0.7" stroke="#ff0000" stroke-opacity="0.7" stroke-width="1.5"/>
</g>
<path d="M188,113h16.7M1234,113h-16.7M188,217h16.7M1234,217h-16.7M188,321h16.7M1234,321h-16.7M188,425h16.7M1234,425h-16.7M188,529h16.7M1234,529h-16.7M188,633h16.7M1234,633h-16.7M188,737h16.7M1234,737h-16.7M188,841h16.7M1234,841h-16.7M188,945h16.7M1234,945h-16.7M188,913.69h12.5M1234,913.69h-12.5M188,882.39h12.5M1234,882.39h-12.5M188,864.07h12.5M1234,864.07h-12.5M188,851.08h12.5M1234,851.08h-12.5M188,809.69h12.5M1234,809.69h-12.5M188,778.39h12.5M1234,778.39h-12.5M188,760.07h12.5M1234,760.07h-12.5M188,747.08h12.5M1234,747.08h-12.5M188,705.69h12.5M1234,705.69h-12.5M188,674.39h12.5M1234,674.39h-12.5M188,656.07h12.5M1234,656.07h-12.5M188,643.08h12.5M1234,643.08h-12.5M188,601.69h12.5M1234,601.69h-12.5M188,570.39h12.5M1234,570.39h-12.5M188,552.07h12.5M1234,552.07h-12.5M188,539.08h12.5M1234,539.08h-12.5M188,497.69h12.5M1234,497.69h-12.5M188,466.39h12.5M1234,466.39h-12.5M188,448.07h12.5M1234,448.07h-12.5M188,435.08h12.5M1234,435.08h-12.5M188,393.69h12.5M1234,393.69h-12.5M188,362.39h12.5M1234,362.39h-12.5M188,344.07h12.5M1234,344.07h-12.5M188,331.08h12.5M1234,331.08h-12.5M188,289.69h12.5M1234,289.69h-12.5M188,258.39h12.5M1234,258.39h-12.5M188,240.07h12.5M1234,240.07h-12.5M188,227.08h12.5M1234,227.08h-12.5M188,185.69h12.5M1234,185.69h-12.5M188,154.39h12.5M1234,154.39h-12.5M188,136.07h12.5M1234,136.07h-12.5M188,123.08h12.5M1234,123.08h-12.5M324.00,945v-16.7M324.00,105v16.7M551.50,945v-16.7M551.50,105v16.7M779.00,945v-16.7M779.00,105v16.7M1006.50,945v-16.7M1006.50,105v16.7M1234.00,945v-16.7M1234.00,105v16.7" stroke="#000" stroke-width="2" fill="none"/>
<rect x="188" y="105" width="1046" height="840" fill="none" stroke="#000" stroke-width="2"/>
<text x="119.85" y="123.60" font-size="26.7">10</text>
<text x="144.67" y="114.60" font-size="19.2">0</text>
<text x="103.85" y="227.60" font-size="26.7">10</text>
<rect x="131.8" y="212.80" width="11.5" height="1.4" fill="#000"/>
<text x="144.6" y="218.30" font-size="19.2">1</text>
<text x="103.85" y="331.60" font-size="26.7">10</text>
<rect x="131.8" y="316.80" width="11.5" height="1.4" fill="#000"/>
<text x="144.6" y="322.30" font-size="19.2">2</text>
<text x="103.85" y="435.60" font-size="26.7">10</text>
<rect x="131.8" y="420.80" width="11.5" height="1.4" fill="#000"/>
<text x="144.6" y="426.30" font-size="19.2">3</text>
<text x="103.85" y="539.60" font-size="26.7">10</text>
<rect x="131.8" y="524.80" width="11.5" height="1.4" fill="#000"/>
<text x="144.6" y="530.30" font-size="19.2">4</text>
<text x="103.85" y="643.60" font-size="26.7">10</text>
<rect x="131.8" y="628.80" width="11.5" height="1.4" fill="#000"/>
<text x="144.6" y="634.30" font-size="19.2">5</text>
<text x="103.85" y="747.60" font-size="26.7">10</text>
<rect x="131.8" y="732.80" width="11.5" height="1.4" fill="#000"/>
<text x="144.6" y="738.30" font-size="19.2">6</text>
<text x="103.85" y="851.60" font-size="26.7">10</text>
<rect x="131.8" y="836.80" width="11.5" height="1.4" fill="#000"/>
<text x="144.6" y="842.30" font-size="19.2">7</text>
<text x="103.85" y="955.60" font-size="26.7">10</text>
<rect x="131.8" y="940.80" width="11.5" height="1.4" fill="#000"/>
<text x="144.6" y="946.30" font-size="19.2">8</text>
<text x="323.6" y="986" text-anchor="middle" font-size="33.3">0.5</text>
<text x="551.1" y="986" text-anchor="middle" font-size="33.3">0.6</text>
<text x="778.6" y="986" text-anchor="middle" font-size="33.3">0.7</text>
<text x="1006.1" y="986" text-anchor="middle" font-size="33.3">0.8</text>
<text x="1233.6" y="986" text-anchor="middle" font-size="33.3">0.9</text>
<text x="0" y="0" font-size="34" fill="#0000ff" text-anchor="middle" transform="translate(96,526.5) rotate(-90)">Mass fraction</text>
<text x="654" y="1020" font-size="33.6" fill="#0000ff">Mr</text>
<path d="M712.6,996.8L700.4,1023.2" stroke="#0000ff" stroke-width="1.8" fill="none"/>
<text x="715" y="1020" font-size="33.6" fill="#0000ff">M</text>
<circle cx="755.6" cy="1017.7" r="8" fill="none" stroke="#0000ff" stroke-width="1.1"/><circle cx="755.6" cy="1017.7" r="1.8" fill="#0000ff"/>
<rect x="1315" y="561" width="130" height="381" fill="#fff" stroke="#000" stroke-width="2"/>
<path d="M1324,582.6L1370,582.6" fill="none" stroke="#000000" stroke-opacity="0.7" stroke-width="4.17" stroke-linecap="butt" stroke-dasharray="12.5,12.5"/>
<text x="1386.5" y="590.6" font-size="24.4"><tspan font-size="17.7" dy="-9.5">1</tspan><tspan font-style="italic" dy="9.5" dx="2.5">H</tspan></text>
<path d="M1324,620.6L1370,620.6" fill="none" stroke="#ff0000" stroke-opacity="0.7" stroke-width="4.17" stroke-linecap="square"/>
<rect x="1340.90" y="614.50" width="12.2" height="12.2" rx="4.2" fill="#ff0000" fill-opacity="0.7" stroke="#000" stroke-opacity="0.7" stroke-width="1.7"/>
<text x="1386.5" y="628.6" font-size="24.4"><tspan font-size="17.7" dy="-9.5">4</tspan><tspan font-style="italic" dy="9.5" dx="2.5">He</tspan></text>
<path d="M1324,659L1370,659" fill="none" stroke="#0000ff" stroke-opacity="0.7" stroke-width="4.17" stroke-linecap="square"/>
<rect x="1340.70" y="652.70" width="12.6" height="12.6" fill="#0000ff" fill-opacity="0.7" stroke="#000" stroke-opacity="0.7" stroke-width="1.7"/>
<text x="1386.5" y="667.0" font-size="24.4"><tspan font-size="17.7" dy="-9.5">12</tspan><tspan font-style="italic" dy="9.5" dx="2.5">C</tspan></text>
<path d="M1324,697L1370,697" fill="none" stroke="#ff0000" stroke-opacity="0.7" stroke-width="4.17" stroke-linecap="butt" stroke-dasharray="6.25,10.4,2.08,10.4"/>
<text x="1386.5" y="705.0" font-size="24.4"><tspan font-size="17.7" dy="-9.5">13</tspan><tspan font-style="italic" dy="9.5" dx="2.5">C</tspan></text>
<path d="M1324,735L1370,735" fill="none" stroke="#0000ff" stroke-opacity="0.7" stroke-width="4.17" stroke-linecap="butt" stroke-dasharray="2.08,6.25"/>
<path d="M1340.75,735.00L1353.25,735.00M1347.00,728.75L1347.00,741.25" stroke="#0000ff" stroke-opacity="0.7" stroke-width="2" fill="none"/>
<text x="1386.5" y="743.0" font-size="24.4"><tspan font-size="17.7" dy="-9.5">14</tspan><tspan font-style="italic" dy="9.5" dx="2.5">N</tspan></text>
<path d="M1324,772.6L1370,772.6" fill="none" stroke="#0000ff" stroke-opacity="0.7" stroke-width="4.17" stroke-linecap="square"/>
<path d="M1347.00,763.76L1352.30,772.60L1347.00,781.44L1341.70,772.60Z" fill="#0000ff" fill-opacity="0.7" stroke="#000" stroke-opacity="0.7" stroke-width="1.7"/>
<text x="1386.5" y="780.6" font-size="24.4"><tspan font-size="17.7" dy="-9.5">15</tspan><tspan font-style="italic" dy="9.5" dx="2.5">N</tspan></text>
<path d="M1324,810.6L1370,810.6" fill="none" stroke="#000000" stroke-opacity="0.7" stroke-width="4.17" stroke-linecap="butt" stroke-dasharray="12.5,12.5"/>
<path d="M1340.75,804.35L1353.25,816.85M1340.75,816.85L1353.25,804.35" stroke="#000" stroke-opacity="0.7" stroke-width="2" fill="none"/>
<text x="1386.5" y="818.6" font-size="24.4"><tspan font-size="17.7" dy="-9.5">16</tspan><tspan font-style="italic" dy="9.5" dx="2.5">O</tspan></text>
<path d="M1324,849L1370,849" fill="none" stroke="#ff0000" stroke-opacity="0.7" stroke-width="4.17" stroke-linecap="square"/>
<path d="M1353.25,849.00L1340.75,842.75L1340.75,855.25Z" fill="#ff0000" fill-opacity="0.7" stroke="#000" stroke-opacity="0.7" stroke-width="1.7"/>
<text x="1386.5" y="857.0" font-size="24.4"><tspan font-size="17.7" dy="-9.5">18</tspan><tspan font-style="italic" dy="9.5" dx="2.5">O</tspan></text>
<path d="M1324,887L1370,887" fill="none" stroke="#ff0000" stroke-opacity="0.7" stroke-width="4.17" stroke-linecap="square"/>
<path d="M1347.00,881.60L1353.09,886.02L1350.76,893.18L1343.24,893.18L1340.91,886.02Z" fill="#ff0000" fill-opacity="0.7" stroke="#000" stroke-opacity="0.7" stroke-width="1.7"/>
<text x="1386.5" y="895.0" font-size="24.4"><tspan font-size="17.7" dy="-9.5">19</tspan><tspan font-style="italic" dy="9.5" dx="2.5">F</tspan></text>
<path d="M1324,925L1370,925" fill="none" stroke="#ff0000" stroke-opacity="0.7" stroke-width="4.17" stroke-linecap="butt" stroke-dasharray="2.08,6.25"/>
<circle cx="1347.00" cy="925.00" r="3.3" fill="#ff0000" fill-opacity="0.7" stroke="#ff0000" stroke-opacity="0.7" stroke-width="1.5"/>
<text x="1386.5" y="933.0" font-size="24.4"><tspan font-size="17.7" dy="-9.5">22</tspan><tspan font-style="italic" dy="9.5" dx="2.5">Ne</tspan></text>
</svg></body></html>
